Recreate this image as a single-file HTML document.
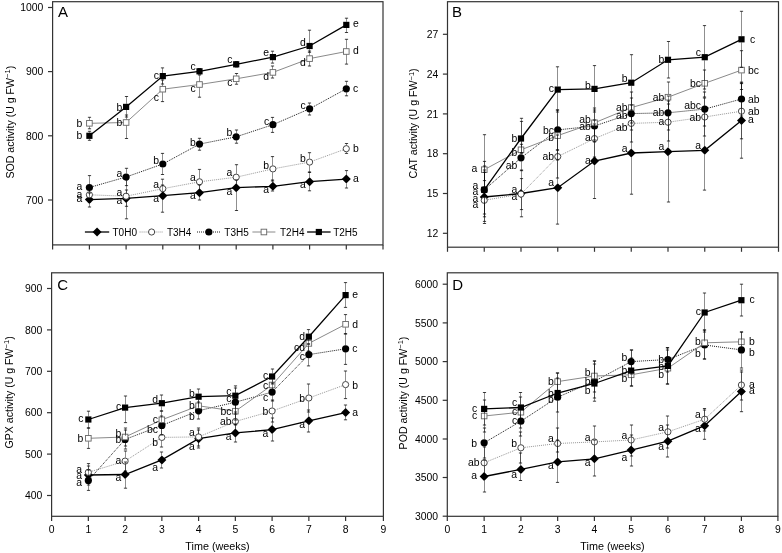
<!DOCTYPE html><html><head><meta charset="utf-8"><style>html,body{margin:0;padding:0;background:#fff;}svg{display:block;filter:grayscale(1);}text{font-family:"Liberation Sans",sans-serif;}</style></head><body>
<svg width="782" height="553" viewBox="0 0 782 553">
<rect width="782" height="553" fill="#fff"/>
<rect x="52.6" y="1.7" width="330.4" height="243.2" fill="none" stroke="#333" stroke-width="1.2"/>
<line x1="52.6" y1="244.9" x2="52.6" y2="249.5" stroke="#333" stroke-width="1.2"/>
<line x1="89.4" y1="244.9" x2="89.4" y2="249.5" stroke="#333" stroke-width="1.2"/>
<line x1="126.1" y1="244.9" x2="126.1" y2="249.5" stroke="#333" stroke-width="1.2"/>
<line x1="162.8" y1="244.9" x2="162.8" y2="249.5" stroke="#333" stroke-width="1.2"/>
<line x1="199.5" y1="244.9" x2="199.5" y2="249.5" stroke="#333" stroke-width="1.2"/>
<line x1="236.2" y1="244.9" x2="236.2" y2="249.5" stroke="#333" stroke-width="1.2"/>
<line x1="272.9" y1="244.9" x2="272.9" y2="249.5" stroke="#333" stroke-width="1.2"/>
<line x1="309.6" y1="244.9" x2="309.6" y2="249.5" stroke="#333" stroke-width="1.2"/>
<line x1="346.3" y1="244.9" x2="346.3" y2="249.5" stroke="#333" stroke-width="1.2"/>
<line x1="383" y1="244.9" x2="383" y2="249.5" stroke="#333" stroke-width="1.2"/>
<line x1="48" y1="7.5" x2="52.6" y2="7.5" stroke="#333" stroke-width="1.2"/>
<text x="43.3" y="11.2" font-size="10.4" text-anchor="end" fill="#000">1000</text>
<line x1="48" y1="71.6" x2="52.6" y2="71.6" stroke="#333" stroke-width="1.2"/>
<text x="43.3" y="75.3" font-size="10.4" text-anchor="end" fill="#000">900</text>
<line x1="48" y1="135.8" x2="52.6" y2="135.8" stroke="#333" stroke-width="1.2"/>
<text x="43.3" y="139.5" font-size="10.4" text-anchor="end" fill="#000">800</text>
<line x1="48" y1="200" x2="52.6" y2="200" stroke="#333" stroke-width="1.2"/>
<text x="43.3" y="203.7" font-size="10.4" text-anchor="end" fill="#000">700</text>
<text x="57.9" y="16.9" font-size="15" fill="#000">A</text>
<text transform="translate(13.5,122.2) rotate(-90)" font-size="10.6" text-anchor="middle" fill="#000">SOD activity (U g FW<tspan font-size="7.5" dy="-3.6">−1</tspan><tspan dy="3.6">)</tspan></text>
<path d="M89.4 199.6L126.1 198.4L162.8 195.7L199.5 192.7L236.2 187.7L272.9 186.3L309.6 181.7L346.3 179.1" stroke="#000" stroke-width="1.3" fill="none"/>
<path d="M89.4 195.1L93.9 199.6L89.4 204.1L84.9 199.6Z" fill="#000"/>
<path d="M126.1 193.9L130.6 198.4L126.1 202.9L121.6 198.4Z" fill="#000"/>
<path d="M162.8 191.2L167.3 195.7L162.8 200.2L158.3 195.7Z" fill="#000"/>
<path d="M199.5 188.2L204 192.7L199.5 197.2L195 192.7Z" fill="#000"/>
<path d="M236.2 183.2L240.7 187.7L236.2 192.2L231.7 187.7Z" fill="#000"/>
<path d="M272.9 181.8L277.4 186.3L272.9 190.8L268.4 186.3Z" fill="#000"/>
<path d="M309.6 177.2L314.1 181.7L309.6 186.2L305.1 181.7Z" fill="#000"/>
<path d="M346.3 174.6L350.8 179.1L346.3 183.6L341.8 179.1Z" fill="#000"/>
<path d="M89.4 194.8L126.1 196.2L162.8 188.7L199.5 181.8L236.2 177.2L272.9 168.9L309.6 162.1L346.3 148.7" stroke="#8a8a8a" stroke-width="0.9" fill="none" stroke-dasharray="1,1"/>
<circle cx="89.4" cy="194.8" r="3.1" fill="#fff" stroke="#333" stroke-width="0.9"/>
<circle cx="126.1" cy="196.2" r="3.1" fill="#fff" stroke="#333" stroke-width="0.9"/>
<circle cx="162.8" cy="188.7" r="3.1" fill="#fff" stroke="#333" stroke-width="0.9"/>
<circle cx="199.5" cy="181.8" r="3.1" fill="#fff" stroke="#333" stroke-width="0.9"/>
<circle cx="236.2" cy="177.2" r="3.1" fill="#fff" stroke="#333" stroke-width="0.9"/>
<circle cx="272.9" cy="168.9" r="3.1" fill="#fff" stroke="#333" stroke-width="0.9"/>
<circle cx="309.6" cy="162.1" r="3.1" fill="#fff" stroke="#333" stroke-width="0.9"/>
<circle cx="346.3" cy="148.7" r="3.1" fill="#fff" stroke="#333" stroke-width="0.9"/>
<path d="M89.4 187.5L126.1 177L162.8 164L199.5 144.1L236.2 136.8L272.9 124.7L309.6 108.8L346.3 88.8" stroke="#000" stroke-width="0.9" fill="none" stroke-dasharray="1,1"/>
<circle cx="89.4" cy="187.5" r="3.6" fill="#000"/>
<circle cx="126.1" cy="177" r="3.6" fill="#000"/>
<circle cx="162.8" cy="164" r="3.6" fill="#000"/>
<circle cx="199.5" cy="144.1" r="3.6" fill="#000"/>
<circle cx="236.2" cy="136.8" r="3.6" fill="#000"/>
<circle cx="272.9" cy="124.7" r="3.6" fill="#000"/>
<circle cx="309.6" cy="108.8" r="3.6" fill="#000"/>
<circle cx="346.3" cy="88.8" r="3.6" fill="#000"/>
<path d="M89.4 123.3L126.1 122.5L162.8 89.2L199.5 84.5L236.2 78.8L272.9 72.4L309.6 58.6L346.3 51.5" stroke="#8a8a8a" stroke-width="1.0" fill="none"/>
<rect x="86.6" y="120.5" width="5.6" height="5.6" fill="#fff" stroke="#666" stroke-width="0.9"/>
<rect x="123.3" y="119.7" width="5.6" height="5.6" fill="#fff" stroke="#666" stroke-width="0.9"/>
<rect x="160" y="86.4" width="5.6" height="5.6" fill="#fff" stroke="#666" stroke-width="0.9"/>
<rect x="196.7" y="81.7" width="5.6" height="5.6" fill="#fff" stroke="#666" stroke-width="0.9"/>
<rect x="233.4" y="76" width="5.6" height="5.6" fill="#fff" stroke="#666" stroke-width="0.9"/>
<rect x="270.1" y="69.6" width="5.6" height="5.6" fill="#fff" stroke="#666" stroke-width="0.9"/>
<rect x="306.8" y="55.8" width="5.6" height="5.6" fill="#fff" stroke="#666" stroke-width="0.9"/>
<rect x="343.5" y="48.7" width="5.6" height="5.6" fill="#fff" stroke="#666" stroke-width="0.9"/>
<path d="M89.4 135.8L126.1 106.9L162.8 76.1L199.5 71.3L236.2 64.3L272.9 57.1L309.6 46L346.3 24.9" stroke="#000" stroke-width="1.3" fill="none"/>
<rect x="86.3" y="132.7" width="6.2" height="6.2" fill="#000"/>
<rect x="123" y="103.8" width="6.2" height="6.2" fill="#000"/>
<rect x="159.7" y="73" width="6.2" height="6.2" fill="#000"/>
<rect x="196.4" y="68.2" width="6.2" height="6.2" fill="#000"/>
<rect x="233.1" y="61.2" width="6.2" height="6.2" fill="#000"/>
<rect x="269.8" y="54" width="6.2" height="6.2" fill="#000"/>
<rect x="306.5" y="42.9" width="6.2" height="6.2" fill="#000"/>
<rect x="343.2" y="21.8" width="6.2" height="6.2" fill="#000"/>
<path d="M89.5 193V195.3" stroke="#000" stroke-opacity="0.44" stroke-width="1" fill="none"/>
<path d="M89.5 203.9V207" stroke="#000" stroke-opacity="0.44" stroke-width="1" fill="none"/>
<path d="M126.5 190V194.1" stroke="#000" stroke-opacity="0.44" stroke-width="1" fill="none"/>
<path d="M126.5 202.7V206.3" stroke="#000" stroke-opacity="0.44" stroke-width="1" fill="none"/>
<path d="M162.5 185V191.4" stroke="#000" stroke-opacity="0.44" stroke-width="1" fill="none"/>
<path d="M162.5 200V212.2" stroke="#000" stroke-opacity="0.44" stroke-width="1" fill="none"/>
<path d="M199.5 185V188.4" stroke="#000" stroke-opacity="0.44" stroke-width="1" fill="none"/>
<path d="M199.5 197V200" stroke="#000" stroke-opacity="0.44" stroke-width="1" fill="none"/>
<path d="M236.5 180V183.4" stroke="#000" stroke-opacity="0.44" stroke-width="1" fill="none"/>
<path d="M236.5 192V210.5" stroke="#000" stroke-opacity="0.44" stroke-width="1" fill="none"/>
<path d="M272.5 180V182" stroke="#000" stroke-opacity="0.44" stroke-width="1" fill="none"/>
<path d="M272.5 190.6V191" stroke="#000" stroke-opacity="0.44" stroke-width="1" fill="none"/>
<path d="M309.5 172V177.4" stroke="#000" stroke-opacity="0.44" stroke-width="1" fill="none"/>
<path d="M309.5 186V190.8" stroke="#000" stroke-opacity="0.44" stroke-width="1" fill="none"/>
<path d="M346.5 170.6V174.8" stroke="#000" stroke-opacity="0.44" stroke-width="1" fill="none"/>
<path d="M346.5 183.4V188" stroke="#000" stroke-opacity="0.44" stroke-width="1" fill="none"/>
<path d="M89.5 187V191.3" stroke="#000" stroke-opacity="0.44" stroke-width="1" fill="none"/>
<path d="M89.5 198.3V202" stroke="#000" stroke-opacity="0.44" stroke-width="1" fill="none"/>
<path d="M126.5 180V192.7" stroke="#000" stroke-opacity="0.44" stroke-width="1" fill="none"/>
<path d="M126.5 199.7V218.8" stroke="#000" stroke-opacity="0.44" stroke-width="1" fill="none"/>
<path d="M162.5 179.2V185.2" stroke="#000" stroke-opacity="0.44" stroke-width="1" fill="none"/>
<path d="M162.5 192.2V198" stroke="#000" stroke-opacity="0.44" stroke-width="1" fill="none"/>
<path d="M199.5 169.4V178.3" stroke="#000" stroke-opacity="0.44" stroke-width="1" fill="none"/>
<path d="M199.5 185.3V194" stroke="#000" stroke-opacity="0.44" stroke-width="1" fill="none"/>
<path d="M236.5 164.7V173.7" stroke="#000" stroke-opacity="0.44" stroke-width="1" fill="none"/>
<path d="M236.5 180.7V190" stroke="#000" stroke-opacity="0.44" stroke-width="1" fill="none"/>
<path d="M272.5 156.6V165.4" stroke="#000" stroke-opacity="0.44" stroke-width="1" fill="none"/>
<path d="M272.5 172.4V181" stroke="#000" stroke-opacity="0.44" stroke-width="1" fill="none"/>
<path d="M309.5 152.7V158.6" stroke="#000" stroke-opacity="0.44" stroke-width="1" fill="none"/>
<path d="M309.5 165.6V172.4" stroke="#000" stroke-opacity="0.44" stroke-width="1" fill="none"/>
<path d="M346.5 143.5V145.2" stroke="#000" stroke-opacity="0.44" stroke-width="1" fill="none"/>
<path d="M346.5 152.2V153.4" stroke="#000" stroke-opacity="0.44" stroke-width="1" fill="none"/>
<path d="M89.5 175.6V184" stroke="#000" stroke-opacity="0.44" stroke-width="1" fill="none"/>
<path d="M89.5 191V199" stroke="#000" stroke-opacity="0.44" stroke-width="1" fill="none"/>
<path d="M126.5 168.3V173.5" stroke="#000" stroke-opacity="0.44" stroke-width="1" fill="none"/>
<path d="M126.5 180.5V185.6" stroke="#000" stroke-opacity="0.44" stroke-width="1" fill="none"/>
<path d="M162.5 153.4V160.5" stroke="#000" stroke-opacity="0.44" stroke-width="1" fill="none"/>
<path d="M162.5 167.5V174.5" stroke="#000" stroke-opacity="0.44" stroke-width="1" fill="none"/>
<path d="M199.5 138.3V140.6" stroke="#000" stroke-opacity="0.44" stroke-width="1" fill="none"/>
<path d="M199.5 147.6V150.2" stroke="#000" stroke-opacity="0.44" stroke-width="1" fill="none"/>
<path d="M236.5 130V133.3" stroke="#000" stroke-opacity="0.44" stroke-width="1" fill="none"/>
<path d="M236.5 140.3V143.2" stroke="#000" stroke-opacity="0.44" stroke-width="1" fill="none"/>
<path d="M272.5 117.4V121.2" stroke="#000" stroke-opacity="0.44" stroke-width="1" fill="none"/>
<path d="M272.5 128.2V132.4" stroke="#000" stroke-opacity="0.44" stroke-width="1" fill="none"/>
<path d="M309.5 103V105.3" stroke="#000" stroke-opacity="0.44" stroke-width="1" fill="none"/>
<path d="M309.5 112.3V115" stroke="#000" stroke-opacity="0.44" stroke-width="1" fill="none"/>
<path d="M346.5 81.3V85.3" stroke="#000" stroke-opacity="0.44" stroke-width="1" fill="none"/>
<path d="M346.5 92.3V95.8" stroke="#000" stroke-opacity="0.44" stroke-width="1" fill="none"/>
<path d="M89.5 117.3V120.1" stroke="#000" stroke-opacity="0.44" stroke-width="1" fill="none"/>
<path d="M89.5 126.5V128.8" stroke="#000" stroke-opacity="0.44" stroke-width="1" fill="none"/>
<path d="M126.5 115V119.3" stroke="#000" stroke-opacity="0.44" stroke-width="1" fill="none"/>
<path d="M126.5 125.7V138.5" stroke="#000" stroke-opacity="0.44" stroke-width="1" fill="none"/>
<path d="M162.5 80V86" stroke="#000" stroke-opacity="0.44" stroke-width="1" fill="none"/>
<path d="M162.5 92.4V101.6" stroke="#000" stroke-opacity="0.44" stroke-width="1" fill="none"/>
<path d="M199.5 75V81.3" stroke="#000" stroke-opacity="0.44" stroke-width="1" fill="none"/>
<path d="M199.5 87.7V97.2" stroke="#000" stroke-opacity="0.44" stroke-width="1" fill="none"/>
<path d="M236.5 73.5V75.6" stroke="#000" stroke-opacity="0.44" stroke-width="1" fill="none"/>
<path d="M236.5 82V84.2" stroke="#000" stroke-opacity="0.44" stroke-width="1" fill="none"/>
<path d="M272.5 66V69.2" stroke="#000" stroke-opacity="0.44" stroke-width="1" fill="none"/>
<path d="M272.5 75.6V78" stroke="#000" stroke-opacity="0.44" stroke-width="1" fill="none"/>
<path d="M309.5 51V55.4" stroke="#000" stroke-opacity="0.44" stroke-width="1" fill="none"/>
<path d="M309.5 61.8V66" stroke="#000" stroke-opacity="0.44" stroke-width="1" fill="none"/>
<path d="M346.5 39.3V48.3" stroke="#000" stroke-opacity="0.44" stroke-width="1" fill="none"/>
<path d="M346.5 54.7V64.1" stroke="#000" stroke-opacity="0.44" stroke-width="1" fill="none"/>
<path d="M89.5 131.3V132.7" stroke="#000" stroke-opacity="0.44" stroke-width="1" fill="none"/>
<path d="M89.5 138.9V140.3" stroke="#000" stroke-opacity="0.44" stroke-width="1" fill="none"/>
<path d="M126.5 96.5V103.8" stroke="#000" stroke-opacity="0.44" stroke-width="1" fill="none"/>
<path d="M126.5 110V117" stroke="#000" stroke-opacity="0.44" stroke-width="1" fill="none"/>
<path d="M162.5 67.9V73" stroke="#000" stroke-opacity="0.44" stroke-width="1" fill="none"/>
<path d="M162.5 79.2V84" stroke="#000" stroke-opacity="0.44" stroke-width="1" fill="none"/>
<path d="M272.5 51.2V54" stroke="#000" stroke-opacity="0.44" stroke-width="1" fill="none"/>
<path d="M272.5 60.2V63.1" stroke="#000" stroke-opacity="0.44" stroke-width="1" fill="none"/>
<path d="M309.5 30.2V42.9" stroke="#000" stroke-opacity="0.44" stroke-width="1" fill="none"/>
<path d="M309.5 49.1V52.3" stroke="#000" stroke-opacity="0.44" stroke-width="1" fill="none"/>
<path d="M346.5 18.2V21.8" stroke="#000" stroke-opacity="0.44" stroke-width="1" fill="none"/>
<path d="M346.5 28V32.5" stroke="#000" stroke-opacity="0.44" stroke-width="1" fill="none"/>
<path d="M87.9 193H91.1M87.9 207H91.1" stroke="#000" stroke-opacity="0.75" stroke-width="1" fill="none"/>
<path d="M124.9 190H128.1M124.9 206.3H128.1" stroke="#000" stroke-opacity="0.75" stroke-width="1" fill="none"/>
<path d="M160.9 185H164.1M160.9 212.2H164.1" stroke="#000" stroke-opacity="0.75" stroke-width="1" fill="none"/>
<path d="M197.9 185H201.1M197.9 200H201.1" stroke="#000" stroke-opacity="0.75" stroke-width="1" fill="none"/>
<path d="M234.9 180H238.1M234.9 210.5H238.1" stroke="#000" stroke-opacity="0.75" stroke-width="1" fill="none"/>
<path d="M270.9 180H274.1M270.9 191H274.1" stroke="#000" stroke-opacity="0.75" stroke-width="1" fill="none"/>
<path d="M307.9 172H311.1M307.9 190.8H311.1" stroke="#000" stroke-opacity="0.75" stroke-width="1" fill="none"/>
<path d="M344.9 170.6H348.1M344.9 188H348.1" stroke="#000" stroke-opacity="0.75" stroke-width="1" fill="none"/>
<path d="M87.9 187H91.1M87.9 202H91.1" stroke="#000" stroke-opacity="0.75" stroke-width="1" fill="none"/>
<path d="M124.9 180H128.1M124.9 218.8H128.1" stroke="#000" stroke-opacity="0.75" stroke-width="1" fill="none"/>
<path d="M160.9 179.2H164.1M160.9 198H164.1" stroke="#000" stroke-opacity="0.75" stroke-width="1" fill="none"/>
<path d="M197.9 169.4H201.1M197.9 194H201.1" stroke="#000" stroke-opacity="0.75" stroke-width="1" fill="none"/>
<path d="M234.9 164.7H238.1M234.9 190H238.1" stroke="#000" stroke-opacity="0.75" stroke-width="1" fill="none"/>
<path d="M270.9 156.6H274.1M270.9 181H274.1" stroke="#000" stroke-opacity="0.75" stroke-width="1" fill="none"/>
<path d="M307.9 152.7H311.1M307.9 172.4H311.1" stroke="#000" stroke-opacity="0.75" stroke-width="1" fill="none"/>
<path d="M344.9 143.5H348.1M344.9 153.4H348.1" stroke="#000" stroke-opacity="0.75" stroke-width="1" fill="none"/>
<path d="M87.9 175.6H91.1M87.9 199H91.1" stroke="#000" stroke-opacity="0.75" stroke-width="1" fill="none"/>
<path d="M124.9 168.3H128.1M124.9 185.6H128.1" stroke="#000" stroke-opacity="0.75" stroke-width="1" fill="none"/>
<path d="M160.9 153.4H164.1M160.9 174.5H164.1" stroke="#000" stroke-opacity="0.75" stroke-width="1" fill="none"/>
<path d="M197.9 138.3H201.1M197.9 150.2H201.1" stroke="#000" stroke-opacity="0.75" stroke-width="1" fill="none"/>
<path d="M234.9 130H238.1M234.9 143.2H238.1" stroke="#000" stroke-opacity="0.75" stroke-width="1" fill="none"/>
<path d="M270.9 117.4H274.1M270.9 132.4H274.1" stroke="#000" stroke-opacity="0.75" stroke-width="1" fill="none"/>
<path d="M307.9 103H311.1M307.9 115H311.1" stroke="#000" stroke-opacity="0.75" stroke-width="1" fill="none"/>
<path d="M344.9 81.3H348.1M344.9 95.8H348.1" stroke="#000" stroke-opacity="0.75" stroke-width="1" fill="none"/>
<path d="M87.9 117.3H91.1M87.9 128.8H91.1" stroke="#000" stroke-opacity="0.75" stroke-width="1" fill="none"/>
<path d="M124.9 115H128.1M124.9 138.5H128.1" stroke="#000" stroke-opacity="0.75" stroke-width="1" fill="none"/>
<path d="M160.9 80H164.1M160.9 101.6H164.1" stroke="#000" stroke-opacity="0.75" stroke-width="1" fill="none"/>
<path d="M197.9 75H201.1M197.9 97.2H201.1" stroke="#000" stroke-opacity="0.75" stroke-width="1" fill="none"/>
<path d="M234.9 73.5H238.1M234.9 84.2H238.1" stroke="#000" stroke-opacity="0.75" stroke-width="1" fill="none"/>
<path d="M270.9 66H274.1M270.9 78H274.1" stroke="#000" stroke-opacity="0.75" stroke-width="1" fill="none"/>
<path d="M307.9 51H311.1M307.9 66H311.1" stroke="#000" stroke-opacity="0.75" stroke-width="1" fill="none"/>
<path d="M344.9 39.3H348.1M344.9 64.1H348.1" stroke="#000" stroke-opacity="0.75" stroke-width="1" fill="none"/>
<path d="M87.9 131.3H91.1M87.9 140.3H91.1" stroke="#000" stroke-opacity="0.75" stroke-width="1" fill="none"/>
<path d="M124.9 96.5H128.1M124.9 117H128.1" stroke="#000" stroke-opacity="0.75" stroke-width="1" fill="none"/>
<path d="M160.9 67.9H164.1M160.9 84H164.1" stroke="#000" stroke-opacity="0.75" stroke-width="1" fill="none"/>
<path d="M197.9 68.5H201.1M197.9 74H201.1" stroke="#000" stroke-opacity="0.75" stroke-width="1" fill="none"/>
<path d="M234.9 61.5H238.1M234.9 67H238.1" stroke="#000" stroke-opacity="0.75" stroke-width="1" fill="none"/>
<path d="M270.9 51.2H274.1M270.9 63.1H274.1" stroke="#000" stroke-opacity="0.75" stroke-width="1" fill="none"/>
<path d="M307.9 30.2H311.1M307.9 52.3H311.1" stroke="#000" stroke-opacity="0.75" stroke-width="1" fill="none"/>
<path d="M344.9 18.2H348.1M344.9 32.5H348.1" stroke="#000" stroke-opacity="0.75" stroke-width="1" fill="none"/>
<text x="82.4" y="202.3" font-size="10.4" text-anchor="end" fill="#000">a</text>
<text x="122.3" y="203.9" font-size="10.4" text-anchor="end" fill="#000">a</text>
<text x="159" y="201.7" font-size="10.4" text-anchor="end" fill="#000">a</text>
<text x="195.7" y="199.2" font-size="10.4" text-anchor="end" fill="#000">a</text>
<text x="232.4" y="195.4" font-size="10.4" text-anchor="end" fill="#000">a</text>
<text x="269.1" y="193" font-size="10.4" text-anchor="end" fill="#000">a</text>
<text x="305.8" y="187.8" font-size="10.4" text-anchor="end" fill="#000">a</text>
<text x="352.9" y="181.8" font-size="10.4" fill="#000">a</text>
<text x="82.4" y="197.5" font-size="10.4" text-anchor="end" fill="#000">a</text>
<text x="122.3" y="195.7" font-size="10.4" text-anchor="end" fill="#000">a</text>
<text x="159" y="188.4" font-size="10.4" text-anchor="end" fill="#000">a</text>
<text x="195.7" y="180.7" font-size="10.4" text-anchor="end" fill="#000">a</text>
<text x="232.4" y="176.2" font-size="10.4" text-anchor="end" fill="#000">a</text>
<text x="269.1" y="169.2" font-size="10.4" text-anchor="end" fill="#000">b</text>
<text x="305.8" y="162.2" font-size="10.4" text-anchor="end" fill="#000">b</text>
<text x="352.9" y="152.3" font-size="10.4" fill="#000">b</text>
<text x="82.4" y="190.2" font-size="10.4" text-anchor="end" fill="#000">a</text>
<text x="122.3" y="176.7" font-size="10.4" text-anchor="end" fill="#000">a</text>
<text x="159" y="164.3" font-size="10.4" text-anchor="end" fill="#000">b</text>
<text x="195.7" y="145.7" font-size="10.4" text-anchor="end" fill="#000">b</text>
<text x="232.4" y="136.4" font-size="10.4" text-anchor="end" fill="#000">b</text>
<text x="269.1" y="124.8" font-size="10.4" text-anchor="end" fill="#000">c</text>
<text x="305.8" y="109.1" font-size="10.4" text-anchor="end" fill="#000">c</text>
<text x="352.9" y="91.5" font-size="10.4" fill="#000">c</text>
<text x="82.4" y="126.9" font-size="10.4" text-anchor="end" fill="#000">b</text>
<text x="122.3" y="126.1" font-size="10.4" text-anchor="end" fill="#000">b</text>
<text x="159" y="100.9" font-size="10.4" text-anchor="end" fill="#000">c</text>
<text x="195.7" y="91.9" font-size="10.4" text-anchor="end" fill="#000">c</text>
<text x="232.4" y="86.2" font-size="10.4" text-anchor="end" fill="#000">c</text>
<text x="269.1" y="79.5" font-size="10.4" text-anchor="end" fill="#000">d</text>
<text x="305.8" y="66" font-size="10.4" text-anchor="end" fill="#000">d</text>
<text x="352.9" y="54.1" font-size="10.4" fill="#000">d</text>
<text x="82.4" y="139.4" font-size="10.4" text-anchor="end" fill="#000">b</text>
<text x="122.3" y="110.5" font-size="10.4" text-anchor="end" fill="#000">b</text>
<text x="159" y="78.8" font-size="10.4" text-anchor="end" fill="#000">c</text>
<text x="195.7" y="69.5" font-size="10.4" text-anchor="end" fill="#000">c</text>
<text x="232.4" y="62.5" font-size="10.4" text-anchor="end" fill="#000">c</text>
<text x="269.1" y="55.5" font-size="10.4" text-anchor="end" fill="#000">e</text>
<text x="305.8" y="45.6" font-size="10.4" text-anchor="end" fill="#000">d</text>
<text x="352.9" y="26.6" font-size="10.4" fill="#000">e</text>
<rect x="447.5" y="1.7" width="331" height="245.5" fill="none" stroke="#333" stroke-width="1.2"/>
<line x1="447.5" y1="247.2" x2="447.5" y2="251.8" stroke="#333" stroke-width="1.2"/>
<line x1="484.25" y1="247.2" x2="484.25" y2="251.8" stroke="#333" stroke-width="1.2"/>
<line x1="521" y1="247.2" x2="521" y2="251.8" stroke="#333" stroke-width="1.2"/>
<line x1="557.75" y1="247.2" x2="557.75" y2="251.8" stroke="#333" stroke-width="1.2"/>
<line x1="594.5" y1="247.2" x2="594.5" y2="251.8" stroke="#333" stroke-width="1.2"/>
<line x1="631.25" y1="247.2" x2="631.25" y2="251.8" stroke="#333" stroke-width="1.2"/>
<line x1="668" y1="247.2" x2="668" y2="251.8" stroke="#333" stroke-width="1.2"/>
<line x1="704.75" y1="247.2" x2="704.75" y2="251.8" stroke="#333" stroke-width="1.2"/>
<line x1="741.5" y1="247.2" x2="741.5" y2="251.8" stroke="#333" stroke-width="1.2"/>
<line x1="778.5" y1="247.2" x2="778.5" y2="251.8" stroke="#333" stroke-width="1.2"/>
<line x1="442.9" y1="34.3" x2="447.5" y2="34.3" stroke="#333" stroke-width="1.2"/>
<text x="438.2" y="38" font-size="10.4" text-anchor="end" fill="#000">27</text>
<line x1="442.9" y1="74.1" x2="447.5" y2="74.1" stroke="#333" stroke-width="1.2"/>
<text x="438.2" y="77.8" font-size="10.4" text-anchor="end" fill="#000">24</text>
<line x1="442.9" y1="113.9" x2="447.5" y2="113.9" stroke="#333" stroke-width="1.2"/>
<text x="438.2" y="117.6" font-size="10.4" text-anchor="end" fill="#000">21</text>
<line x1="442.9" y1="153.7" x2="447.5" y2="153.7" stroke="#333" stroke-width="1.2"/>
<text x="438.2" y="157.4" font-size="10.4" text-anchor="end" fill="#000">18</text>
<line x1="442.9" y1="193.5" x2="447.5" y2="193.5" stroke="#333" stroke-width="1.2"/>
<text x="438.2" y="197.2" font-size="10.4" text-anchor="end" fill="#000">15</text>
<line x1="442.9" y1="233.3" x2="447.5" y2="233.3" stroke="#333" stroke-width="1.2"/>
<text x="438.2" y="237" font-size="10.4" text-anchor="end" fill="#000">12</text>
<text x="452" y="16.9" font-size="15" fill="#000">B</text>
<text transform="translate(417.1,123.4) rotate(-90)" font-size="10.6" text-anchor="middle" fill="#000">CAT activity (U g FW<tspan font-size="7.5" dy="-3.6">−1</tspan><tspan dy="3.6">)</tspan></text>
<path d="M484.25 197L521 193.5L557.75 187.7L594.5 161L631.25 153L668 151.7L704.75 150.3L741.5 120.6" stroke="#000" stroke-width="1.3" fill="none"/>
<path d="M484.25 192.5L488.75 197L484.25 201.5L479.75 197Z" fill="#000"/>
<path d="M521 189L525.5 193.5L521 198L516.5 193.5Z" fill="#000"/>
<path d="M557.75 183.2L562.25 187.7L557.75 192.2L553.25 187.7Z" fill="#000"/>
<path d="M594.5 156.5L599 161L594.5 165.5L590 161Z" fill="#000"/>
<path d="M631.25 148.5L635.75 153L631.25 157.5L626.75 153Z" fill="#000"/>
<path d="M668 147.2L672.5 151.7L668 156.2L663.5 151.7Z" fill="#000"/>
<path d="M704.75 145.8L709.25 150.3L704.75 154.8L700.25 150.3Z" fill="#000"/>
<path d="M741.5 116.1L746 120.6L741.5 125.1L737 120.6Z" fill="#000"/>
<path d="M484.25 200.3L521 194.1L557.75 156.6L594.5 138.6L631.25 123.4L668 122.2L704.75 117L741.5 111.2" stroke="#8a8a8a" stroke-width="0.9" fill="none" stroke-dasharray="1,1"/>
<circle cx="484.25" cy="200.3" r="3.1" fill="#fff" stroke="#333" stroke-width="0.9"/>
<circle cx="521" cy="194.1" r="3.1" fill="#fff" stroke="#333" stroke-width="0.9"/>
<circle cx="557.75" cy="156.6" r="3.1" fill="#fff" stroke="#333" stroke-width="0.9"/>
<circle cx="594.5" cy="138.6" r="3.1" fill="#fff" stroke="#333" stroke-width="0.9"/>
<circle cx="631.25" cy="123.4" r="3.1" fill="#fff" stroke="#333" stroke-width="0.9"/>
<circle cx="668" cy="122.2" r="3.1" fill="#fff" stroke="#333" stroke-width="0.9"/>
<circle cx="704.75" cy="117" r="3.1" fill="#fff" stroke="#333" stroke-width="0.9"/>
<circle cx="741.5" cy="111.2" r="3.1" fill="#fff" stroke="#333" stroke-width="0.9"/>
<path d="M484.25 189.9L521 157.8L557.75 129.9L594.5 126L631.25 113.6L668 112.8L704.75 109.1L741.5 99" stroke="#000" stroke-width="0.9" fill="none" stroke-dasharray="1,1"/>
<circle cx="484.25" cy="189.9" r="3.6" fill="#000"/>
<circle cx="521" cy="157.8" r="3.6" fill="#000"/>
<circle cx="557.75" cy="129.9" r="3.6" fill="#000"/>
<circle cx="594.5" cy="126" r="3.6" fill="#000"/>
<circle cx="631.25" cy="113.6" r="3.6" fill="#000"/>
<circle cx="668" cy="112.8" r="3.6" fill="#000"/>
<circle cx="704.75" cy="109.1" r="3.6" fill="#000"/>
<circle cx="741.5" cy="99" r="3.6" fill="#000"/>
<path d="M484.25 169.7L521 149.8L557.75 135.6L594.5 122.8L631.25 107.6L668 97.2L704.75 83.3L741.5 70.1" stroke="#8a8a8a" stroke-width="1.0" fill="none"/>
<rect x="481.45" y="166.9" width="5.6" height="5.6" fill="#fff" stroke="#666" stroke-width="0.9"/>
<rect x="518.2" y="147" width="5.6" height="5.6" fill="#fff" stroke="#666" stroke-width="0.9"/>
<rect x="554.95" y="132.8" width="5.6" height="5.6" fill="#fff" stroke="#666" stroke-width="0.9"/>
<rect x="591.7" y="120" width="5.6" height="5.6" fill="#fff" stroke="#666" stroke-width="0.9"/>
<rect x="628.45" y="104.8" width="5.6" height="5.6" fill="#fff" stroke="#666" stroke-width="0.9"/>
<rect x="665.2" y="94.4" width="5.6" height="5.6" fill="#fff" stroke="#666" stroke-width="0.9"/>
<rect x="701.95" y="80.5" width="5.6" height="5.6" fill="#fff" stroke="#666" stroke-width="0.9"/>
<rect x="738.7" y="67.3" width="5.6" height="5.6" fill="#fff" stroke="#666" stroke-width="0.9"/>
<path d="M484.25 189.8L521 138.5L557.75 89.6L594.5 88.9L631.25 82.7L668 59.8L704.75 57.2L741.5 39.3" stroke="#000" stroke-width="1.3" fill="none"/>
<rect x="481.15" y="186.7" width="6.2" height="6.2" fill="#000"/>
<rect x="517.9" y="135.4" width="6.2" height="6.2" fill="#000"/>
<rect x="554.65" y="86.5" width="6.2" height="6.2" fill="#000"/>
<rect x="591.4" y="85.8" width="6.2" height="6.2" fill="#000"/>
<rect x="628.15" y="79.6" width="6.2" height="6.2" fill="#000"/>
<rect x="664.9" y="56.7" width="6.2" height="6.2" fill="#000"/>
<rect x="701.65" y="54.1" width="6.2" height="6.2" fill="#000"/>
<rect x="738.4" y="36.2" width="6.2" height="6.2" fill="#000"/>
<path d="M484.5 170V192.7" stroke="#000" stroke-opacity="0.44" stroke-width="1" fill="none"/>
<path d="M484.5 201.3V223.5" stroke="#000" stroke-opacity="0.44" stroke-width="1" fill="none"/>
<path d="M521.5 170V189.2" stroke="#000" stroke-opacity="0.44" stroke-width="1" fill="none"/>
<path d="M521.5 197.8V216.8" stroke="#000" stroke-opacity="0.44" stroke-width="1" fill="none"/>
<path d="M557.5 150V183.4" stroke="#000" stroke-opacity="0.44" stroke-width="1" fill="none"/>
<path d="M557.5 192V224.1" stroke="#000" stroke-opacity="0.44" stroke-width="1" fill="none"/>
<path d="M594.5 124V156.7" stroke="#000" stroke-opacity="0.44" stroke-width="1" fill="none"/>
<path d="M594.5 165.3V198.5" stroke="#000" stroke-opacity="0.44" stroke-width="1" fill="none"/>
<path d="M631.5 112V148.7" stroke="#000" stroke-opacity="0.44" stroke-width="1" fill="none"/>
<path d="M631.5 157.3V194.2" stroke="#000" stroke-opacity="0.44" stroke-width="1" fill="none"/>
<path d="M668.5 101V147.4" stroke="#000" stroke-opacity="0.44" stroke-width="1" fill="none"/>
<path d="M668.5 156V202" stroke="#000" stroke-opacity="0.44" stroke-width="1" fill="none"/>
<path d="M704.5 110V146" stroke="#000" stroke-opacity="0.44" stroke-width="1" fill="none"/>
<path d="M704.5 154.6V190.1" stroke="#000" stroke-opacity="0.44" stroke-width="1" fill="none"/>
<path d="M741.5 82.9V116.3" stroke="#000" stroke-opacity="0.44" stroke-width="1" fill="none"/>
<path d="M741.5 124.9V158.2" stroke="#000" stroke-opacity="0.44" stroke-width="1" fill="none"/>
<path d="M484.5 172.2V196.8" stroke="#000" stroke-opacity="0.44" stroke-width="1" fill="none"/>
<path d="M484.5 203.8V221.4" stroke="#000" stroke-opacity="0.44" stroke-width="1" fill="none"/>
<path d="M521.5 178.6V190.6" stroke="#000" stroke-opacity="0.44" stroke-width="1" fill="none"/>
<path d="M521.5 197.6V209.6" stroke="#000" stroke-opacity="0.44" stroke-width="1" fill="none"/>
<path d="M557.5 135V153.1" stroke="#000" stroke-opacity="0.44" stroke-width="1" fill="none"/>
<path d="M557.5 160.1V178" stroke="#000" stroke-opacity="0.44" stroke-width="1" fill="none"/>
<path d="M594.5 120V135.1" stroke="#000" stroke-opacity="0.44" stroke-width="1" fill="none"/>
<path d="M594.5 142.1V157" stroke="#000" stroke-opacity="0.44" stroke-width="1" fill="none"/>
<path d="M631.5 105V119.9" stroke="#000" stroke-opacity="0.44" stroke-width="1" fill="none"/>
<path d="M631.5 126.9V142" stroke="#000" stroke-opacity="0.44" stroke-width="1" fill="none"/>
<path d="M668.5 104V118.7" stroke="#000" stroke-opacity="0.44" stroke-width="1" fill="none"/>
<path d="M668.5 125.7V141" stroke="#000" stroke-opacity="0.44" stroke-width="1" fill="none"/>
<path d="M704.5 98V113.5" stroke="#000" stroke-opacity="0.44" stroke-width="1" fill="none"/>
<path d="M704.5 120.5V136" stroke="#000" stroke-opacity="0.44" stroke-width="1" fill="none"/>
<path d="M741.5 83.6V107.7" stroke="#000" stroke-opacity="0.44" stroke-width="1" fill="none"/>
<path d="M741.5 114.7V138.8" stroke="#000" stroke-opacity="0.44" stroke-width="1" fill="none"/>
<path d="M484.5 166V186.4" stroke="#000" stroke-opacity="0.44" stroke-width="1" fill="none"/>
<path d="M484.5 193.4V214" stroke="#000" stroke-opacity="0.44" stroke-width="1" fill="none"/>
<path d="M521.5 144.3V154.3" stroke="#000" stroke-opacity="0.44" stroke-width="1" fill="none"/>
<path d="M521.5 161.3V170.7" stroke="#000" stroke-opacity="0.44" stroke-width="1" fill="none"/>
<path d="M557.5 110V126.4" stroke="#000" stroke-opacity="0.44" stroke-width="1" fill="none"/>
<path d="M557.5 133.4V150" stroke="#000" stroke-opacity="0.44" stroke-width="1" fill="none"/>
<path d="M594.5 110V122.5" stroke="#000" stroke-opacity="0.44" stroke-width="1" fill="none"/>
<path d="M594.5 129.5V142" stroke="#000" stroke-opacity="0.44" stroke-width="1" fill="none"/>
<path d="M631.5 98V110.1" stroke="#000" stroke-opacity="0.44" stroke-width="1" fill="none"/>
<path d="M631.5 117.1V130" stroke="#000" stroke-opacity="0.44" stroke-width="1" fill="none"/>
<path d="M668.5 96V109.3" stroke="#000" stroke-opacity="0.44" stroke-width="1" fill="none"/>
<path d="M668.5 116.3V130" stroke="#000" stroke-opacity="0.44" stroke-width="1" fill="none"/>
<path d="M704.5 92V105.6" stroke="#000" stroke-opacity="0.44" stroke-width="1" fill="none"/>
<path d="M704.5 112.6V126" stroke="#000" stroke-opacity="0.44" stroke-width="1" fill="none"/>
<path d="M741.5 82.1V95.5" stroke="#000" stroke-opacity="0.44" stroke-width="1" fill="none"/>
<path d="M741.5 102.5V116" stroke="#000" stroke-opacity="0.44" stroke-width="1" fill="none"/>
<path d="M484.5 161.4V166.5" stroke="#000" stroke-opacity="0.44" stroke-width="1" fill="none"/>
<path d="M484.5 172.9V180.6" stroke="#000" stroke-opacity="0.44" stroke-width="1" fill="none"/>
<path d="M521.5 121.4V146.6" stroke="#000" stroke-opacity="0.44" stroke-width="1" fill="none"/>
<path d="M557.5 110V132.4" stroke="#000" stroke-opacity="0.44" stroke-width="1" fill="none"/>
<path d="M557.5 138.8V160" stroke="#000" stroke-opacity="0.44" stroke-width="1" fill="none"/>
<path d="M594.5 108V119.6" stroke="#000" stroke-opacity="0.44" stroke-width="1" fill="none"/>
<path d="M594.5 126V140" stroke="#000" stroke-opacity="0.44" stroke-width="1" fill="none"/>
<path d="M631.5 92V104.4" stroke="#000" stroke-opacity="0.44" stroke-width="1" fill="none"/>
<path d="M631.5 110.8V123" stroke="#000" stroke-opacity="0.44" stroke-width="1" fill="none"/>
<path d="M668.5 82V94" stroke="#000" stroke-opacity="0.44" stroke-width="1" fill="none"/>
<path d="M668.5 100.4V112" stroke="#000" stroke-opacity="0.44" stroke-width="1" fill="none"/>
<path d="M704.5 70V80.1" stroke="#000" stroke-opacity="0.44" stroke-width="1" fill="none"/>
<path d="M704.5 86.5V97" stroke="#000" stroke-opacity="0.44" stroke-width="1" fill="none"/>
<path d="M741.5 50.7V66.9" stroke="#000" stroke-opacity="0.44" stroke-width="1" fill="none"/>
<path d="M741.5 73.3V89.5" stroke="#000" stroke-opacity="0.44" stroke-width="1" fill="none"/>
<path d="M484.5 134.7V186.7" stroke="#000" stroke-opacity="0.44" stroke-width="1" fill="none"/>
<path d="M484.5 192.9V216.8" stroke="#000" stroke-opacity="0.44" stroke-width="1" fill="none"/>
<path d="M521.5 118.3V135.4" stroke="#000" stroke-opacity="0.44" stroke-width="1" fill="none"/>
<path d="M521.5 141.6V153" stroke="#000" stroke-opacity="0.44" stroke-width="1" fill="none"/>
<path d="M557.5 66.8V86.5" stroke="#000" stroke-opacity="0.44" stroke-width="1" fill="none"/>
<path d="M557.5 92.7V112" stroke="#000" stroke-opacity="0.44" stroke-width="1" fill="none"/>
<path d="M594.5 65.6V85.8" stroke="#000" stroke-opacity="0.44" stroke-width="1" fill="none"/>
<path d="M594.5 92V112" stroke="#000" stroke-opacity="0.44" stroke-width="1" fill="none"/>
<path d="M631.5 54.7V79.6" stroke="#000" stroke-opacity="0.44" stroke-width="1" fill="none"/>
<path d="M631.5 85.8V110" stroke="#000" stroke-opacity="0.44" stroke-width="1" fill="none"/>
<path d="M668.5 41.5V56.7" stroke="#000" stroke-opacity="0.44" stroke-width="1" fill="none"/>
<path d="M668.5 62.9V78" stroke="#000" stroke-opacity="0.44" stroke-width="1" fill="none"/>
<path d="M704.5 25.6V54.1" stroke="#000" stroke-opacity="0.44" stroke-width="1" fill="none"/>
<path d="M704.5 60.3V89" stroke="#000" stroke-opacity="0.44" stroke-width="1" fill="none"/>
<path d="M741.5 11.3V36.2" stroke="#000" stroke-opacity="0.44" stroke-width="1" fill="none"/>
<path d="M741.5 42.4V67.3" stroke="#000" stroke-opacity="0.44" stroke-width="1" fill="none"/>
<path d="M482.9 170H486.1M482.9 223.5H486.1" stroke="#000" stroke-opacity="0.75" stroke-width="1" fill="none"/>
<path d="M519.9 170H523.1M519.9 216.8H523.1" stroke="#000" stroke-opacity="0.75" stroke-width="1" fill="none"/>
<path d="M555.9 150H559.1M555.9 224.1H559.1" stroke="#000" stroke-opacity="0.75" stroke-width="1" fill="none"/>
<path d="M592.9 124H596.1M592.9 198.5H596.1" stroke="#000" stroke-opacity="0.75" stroke-width="1" fill="none"/>
<path d="M629.9 112H633.1M629.9 194.2H633.1" stroke="#000" stroke-opacity="0.75" stroke-width="1" fill="none"/>
<path d="M666.9 101H670.1M666.9 202H670.1" stroke="#000" stroke-opacity="0.75" stroke-width="1" fill="none"/>
<path d="M702.9 110H706.1M702.9 190.1H706.1" stroke="#000" stroke-opacity="0.75" stroke-width="1" fill="none"/>
<path d="M739.9 82.9H743.1M739.9 158.2H743.1" stroke="#000" stroke-opacity="0.75" stroke-width="1" fill="none"/>
<path d="M482.9 172.2H486.1M482.9 221.4H486.1" stroke="#000" stroke-opacity="0.75" stroke-width="1" fill="none"/>
<path d="M519.9 178.6H523.1M519.9 209.6H523.1" stroke="#000" stroke-opacity="0.75" stroke-width="1" fill="none"/>
<path d="M555.9 135H559.1M555.9 178H559.1" stroke="#000" stroke-opacity="0.75" stroke-width="1" fill="none"/>
<path d="M592.9 120H596.1M592.9 157H596.1" stroke="#000" stroke-opacity="0.75" stroke-width="1" fill="none"/>
<path d="M629.9 105H633.1M629.9 142H633.1" stroke="#000" stroke-opacity="0.75" stroke-width="1" fill="none"/>
<path d="M666.9 104H670.1M666.9 141H670.1" stroke="#000" stroke-opacity="0.75" stroke-width="1" fill="none"/>
<path d="M702.9 98H706.1M702.9 136H706.1" stroke="#000" stroke-opacity="0.75" stroke-width="1" fill="none"/>
<path d="M739.9 83.6H743.1M739.9 138.8H743.1" stroke="#000" stroke-opacity="0.75" stroke-width="1" fill="none"/>
<path d="M482.9 166H486.1M482.9 214H486.1" stroke="#000" stroke-opacity="0.75" stroke-width="1" fill="none"/>
<path d="M519.9 144.3H523.1M519.9 170.7H523.1" stroke="#000" stroke-opacity="0.75" stroke-width="1" fill="none"/>
<path d="M555.9 110H559.1M555.9 150H559.1" stroke="#000" stroke-opacity="0.75" stroke-width="1" fill="none"/>
<path d="M592.9 110H596.1M592.9 142H596.1" stroke="#000" stroke-opacity="0.75" stroke-width="1" fill="none"/>
<path d="M629.9 98H633.1M629.9 130H633.1" stroke="#000" stroke-opacity="0.75" stroke-width="1" fill="none"/>
<path d="M666.9 96H670.1M666.9 130H670.1" stroke="#000" stroke-opacity="0.75" stroke-width="1" fill="none"/>
<path d="M702.9 92H706.1M702.9 126H706.1" stroke="#000" stroke-opacity="0.75" stroke-width="1" fill="none"/>
<path d="M739.9 82.1H743.1M739.9 116H743.1" stroke="#000" stroke-opacity="0.75" stroke-width="1" fill="none"/>
<path d="M482.9 161.4H486.1M482.9 180.6H486.1" stroke="#000" stroke-opacity="0.75" stroke-width="1" fill="none"/>
<path d="M519.9 121.4H523.1M519.9 153H523.1" stroke="#000" stroke-opacity="0.75" stroke-width="1" fill="none"/>
<path d="M555.9 110H559.1M555.9 160H559.1" stroke="#000" stroke-opacity="0.75" stroke-width="1" fill="none"/>
<path d="M592.9 108H596.1M592.9 140H596.1" stroke="#000" stroke-opacity="0.75" stroke-width="1" fill="none"/>
<path d="M629.9 92H633.1M629.9 123H633.1" stroke="#000" stroke-opacity="0.75" stroke-width="1" fill="none"/>
<path d="M666.9 82H670.1M666.9 112H670.1" stroke="#000" stroke-opacity="0.75" stroke-width="1" fill="none"/>
<path d="M702.9 70H706.1M702.9 97H706.1" stroke="#000" stroke-opacity="0.75" stroke-width="1" fill="none"/>
<path d="M739.9 50.7H743.1M739.9 89.5H743.1" stroke="#000" stroke-opacity="0.75" stroke-width="1" fill="none"/>
<path d="M482.9 134.7H486.1M482.9 216.8H486.1" stroke="#000" stroke-opacity="0.75" stroke-width="1" fill="none"/>
<path d="M519.9 118.3H523.1M519.9 153H523.1" stroke="#000" stroke-opacity="0.75" stroke-width="1" fill="none"/>
<path d="M555.9 66.8H559.1M555.9 112H559.1" stroke="#000" stroke-opacity="0.75" stroke-width="1" fill="none"/>
<path d="M592.9 65.6H596.1M592.9 112H596.1" stroke="#000" stroke-opacity="0.75" stroke-width="1" fill="none"/>
<path d="M629.9 54.7H633.1M629.9 110H633.1" stroke="#000" stroke-opacity="0.75" stroke-width="1" fill="none"/>
<path d="M666.9 41.5H670.1M666.9 78H670.1" stroke="#000" stroke-opacity="0.75" stroke-width="1" fill="none"/>
<path d="M702.9 25.6H706.1M702.9 89H706.1" stroke="#000" stroke-opacity="0.75" stroke-width="1" fill="none"/>
<path d="M739.9 11.3H743.1M739.9 67.3H743.1" stroke="#000" stroke-opacity="0.75" stroke-width="1" fill="none"/>
<text x="517.2" y="200.2" font-size="10.4" text-anchor="end" fill="#000">a</text>
<text x="553.95" y="186.4" font-size="10.4" text-anchor="end" fill="#000">a</text>
<text x="590.7" y="163.7" font-size="10.4" text-anchor="end" fill="#000">a</text>
<text x="627.45" y="151.7" font-size="10.4" text-anchor="end" fill="#000">a</text>
<text x="664.2" y="150.4" font-size="10.4" text-anchor="end" fill="#000">a</text>
<text x="700.95" y="149" font-size="10.4" text-anchor="end" fill="#000">a</text>
<text x="748.1" y="123.3" font-size="10.4" fill="#000">a</text>
<text x="517.2" y="192.8" font-size="10.4" text-anchor="end" fill="#000">a</text>
<text x="553.95" y="160.2" font-size="10.4" text-anchor="end" fill="#000">ab</text>
<text x="590.7" y="141.3" font-size="10.4" text-anchor="end" fill="#000">a</text>
<text x="627.45" y="131" font-size="10.4" text-anchor="end" fill="#000">ab</text>
<text x="664.2" y="124.9" font-size="10.4" text-anchor="end" fill="#000">a</text>
<text x="700.95" y="120.6" font-size="10.4" text-anchor="end" fill="#000">ab</text>
<text x="748.1" y="114.8" font-size="10.4" fill="#000">ab</text>
<text x="517.2" y="168.9" font-size="10.4" text-anchor="end" fill="#000">ab</text>
<text x="553.95" y="133.5" font-size="10.4" text-anchor="end" fill="#000">bc</text>
<text x="590.7" y="129.6" font-size="10.4" text-anchor="end" fill="#000">ab</text>
<text x="627.45" y="119.2" font-size="10.4" text-anchor="end" fill="#000">ab</text>
<text x="664.2" y="116.4" font-size="10.4" text-anchor="end" fill="#000">ab</text>
<text x="700.95" y="108.7" font-size="10.4" text-anchor="end" fill="#000">abc</text>
<text x="748.1" y="102.6" font-size="10.4" fill="#000">ab</text>
<text x="477.25" y="172.4" font-size="10.4" text-anchor="end" fill="#000">a</text>
<text x="517.2" y="155.8" font-size="10.4" text-anchor="end" fill="#000">b</text>
<text x="553.95" y="140.7" font-size="10.4" text-anchor="end" fill="#000">b</text>
<text x="590.7" y="123.4" font-size="10.4" text-anchor="end" fill="#000">ab</text>
<text x="627.45" y="111.2" font-size="10.4" text-anchor="end" fill="#000">ab</text>
<text x="664.2" y="100.8" font-size="10.4" text-anchor="end" fill="#000">ab</text>
<text x="700.95" y="86.9" font-size="10.4" text-anchor="end" fill="#000">bc</text>
<text x="748.1" y="73.7" font-size="10.4" fill="#000">bc</text>
<text x="517.2" y="142.1" font-size="10.4" text-anchor="end" fill="#000">b</text>
<text x="553.95" y="92.3" font-size="10.4" text-anchor="end" fill="#000">c</text>
<text x="590.7" y="88.5" font-size="10.4" text-anchor="end" fill="#000">b</text>
<text x="627.45" y="82.3" font-size="10.4" text-anchor="end" fill="#000">b</text>
<text x="664.2" y="63.4" font-size="10.4" text-anchor="end" fill="#000">b</text>
<text x="700.95" y="55.9" font-size="10.4" text-anchor="end" fill="#000">c</text>
<text x="750.1" y="42.5" font-size="10.4" fill="#000">c</text>
<text x="478.4" y="188.8" font-size="10.4" text-anchor="end" fill="#000">a</text>
<text x="478.4" y="195.2" font-size="10.4" text-anchor="end" fill="#000">a</text>
<text x="478.4" y="201.6" font-size="10.4" text-anchor="end" fill="#000">a</text>
<text x="478.4" y="207.9" font-size="10.4" text-anchor="end" fill="#000">a</text>
<rect x="51.6" y="272.8" width="331.8" height="243.5" fill="none" stroke="#333" stroke-width="1.2"/>
<line x1="51.6" y1="516.3" x2="51.6" y2="520.9" stroke="#333" stroke-width="1.2"/>
<text x="51.6" y="532.7" font-size="10.4" text-anchor="middle" fill="#000">0</text>
<line x1="88.35" y1="516.3" x2="88.35" y2="520.9" stroke="#333" stroke-width="1.2"/>
<text x="88.35" y="532.7" font-size="10.4" text-anchor="middle" fill="#000">1</text>
<line x1="125.1" y1="516.3" x2="125.1" y2="520.9" stroke="#333" stroke-width="1.2"/>
<text x="125.1" y="532.7" font-size="10.4" text-anchor="middle" fill="#000">2</text>
<line x1="161.85" y1="516.3" x2="161.85" y2="520.9" stroke="#333" stroke-width="1.2"/>
<text x="161.85" y="532.7" font-size="10.4" text-anchor="middle" fill="#000">3</text>
<line x1="198.6" y1="516.3" x2="198.6" y2="520.9" stroke="#333" stroke-width="1.2"/>
<text x="198.6" y="532.7" font-size="10.4" text-anchor="middle" fill="#000">4</text>
<line x1="235.35" y1="516.3" x2="235.35" y2="520.9" stroke="#333" stroke-width="1.2"/>
<text x="235.35" y="532.7" font-size="10.4" text-anchor="middle" fill="#000">5</text>
<line x1="272.1" y1="516.3" x2="272.1" y2="520.9" stroke="#333" stroke-width="1.2"/>
<text x="272.1" y="532.7" font-size="10.4" text-anchor="middle" fill="#000">6</text>
<line x1="308.85" y1="516.3" x2="308.85" y2="520.9" stroke="#333" stroke-width="1.2"/>
<text x="308.85" y="532.7" font-size="10.4" text-anchor="middle" fill="#000">7</text>
<line x1="345.6" y1="516.3" x2="345.6" y2="520.9" stroke="#333" stroke-width="1.2"/>
<text x="345.6" y="532.7" font-size="10.4" text-anchor="middle" fill="#000">8</text>
<line x1="383.4" y1="516.3" x2="383.4" y2="520.9" stroke="#333" stroke-width="1.2"/>
<text x="383.4" y="532.7" font-size="10.4" text-anchor="middle" fill="#000">9</text>
<line x1="47" y1="288.5" x2="51.6" y2="288.5" stroke="#333" stroke-width="1.2"/>
<text x="42.3" y="292.2" font-size="10.4" text-anchor="end" fill="#000">900</text>
<line x1="47" y1="329.9" x2="51.6" y2="329.9" stroke="#333" stroke-width="1.2"/>
<text x="42.3" y="333.6" font-size="10.4" text-anchor="end" fill="#000">800</text>
<line x1="47" y1="371.3" x2="51.6" y2="371.3" stroke="#333" stroke-width="1.2"/>
<text x="42.3" y="375" font-size="10.4" text-anchor="end" fill="#000">700</text>
<line x1="47" y1="412.7" x2="51.6" y2="412.7" stroke="#333" stroke-width="1.2"/>
<text x="42.3" y="416.4" font-size="10.4" text-anchor="end" fill="#000">600</text>
<line x1="47" y1="454.1" x2="51.6" y2="454.1" stroke="#333" stroke-width="1.2"/>
<text x="42.3" y="457.8" font-size="10.4" text-anchor="end" fill="#000">500</text>
<line x1="47" y1="495.5" x2="51.6" y2="495.5" stroke="#333" stroke-width="1.2"/>
<text x="42.3" y="499.2" font-size="10.4" text-anchor="end" fill="#000">400</text>
<text x="57.2" y="290.2" font-size="15" fill="#000">C</text>
<text transform="translate(12.8,392.4) rotate(-90)" font-size="10.6" text-anchor="middle" fill="#000">GPX activity (U g FW<tspan font-size="7.5" dy="-3.6">−1</tspan><tspan dy="3.6">)</tspan></text>
<path d="M88.35 475L125.1 474.5L161.85 459.9L198.6 438.7L235.35 432.9L272.1 429.6L308.85 420.8L345.6 412.6" stroke="#000" stroke-width="1.3" fill="none"/>
<path d="M88.35 470.5L92.85 475L88.35 479.5L83.85 475Z" fill="#000"/>
<path d="M125.1 470L129.6 474.5L125.1 479L120.6 474.5Z" fill="#000"/>
<path d="M161.85 455.4L166.35 459.9L161.85 464.4L157.35 459.9Z" fill="#000"/>
<path d="M198.6 434.2L203.1 438.7L198.6 443.2L194.1 438.7Z" fill="#000"/>
<path d="M235.35 428.4L239.85 432.9L235.35 437.4L230.85 432.9Z" fill="#000"/>
<path d="M272.1 425.1L276.6 429.6L272.1 434.1L267.6 429.6Z" fill="#000"/>
<path d="M308.85 416.3L313.35 420.8L308.85 425.3L304.35 420.8Z" fill="#000"/>
<path d="M345.6 408.1L350.1 412.6L345.6 417.1L341.1 412.6Z" fill="#000"/>
<path d="M88.35 472.3L125.1 461.1L161.85 437.4L198.6 436.9L235.35 421.5L272.1 411L308.85 398L345.6 384.6" stroke="#8a8a8a" stroke-width="0.9" fill="none" stroke-dasharray="1,1"/>
<circle cx="88.35" cy="472.3" r="3.1" fill="#fff" stroke="#333" stroke-width="0.9"/>
<circle cx="125.1" cy="461.1" r="3.1" fill="#fff" stroke="#333" stroke-width="0.9"/>
<circle cx="161.85" cy="437.4" r="3.1" fill="#fff" stroke="#333" stroke-width="0.9"/>
<circle cx="198.6" cy="436.9" r="3.1" fill="#fff" stroke="#333" stroke-width="0.9"/>
<circle cx="235.35" cy="421.5" r="3.1" fill="#fff" stroke="#333" stroke-width="0.9"/>
<circle cx="272.1" cy="411" r="3.1" fill="#fff" stroke="#333" stroke-width="0.9"/>
<circle cx="308.85" cy="398" r="3.1" fill="#fff" stroke="#333" stroke-width="0.9"/>
<circle cx="345.6" cy="384.6" r="3.1" fill="#fff" stroke="#333" stroke-width="0.9"/>
<path d="M88.35 480.4L125.1 439.4L161.85 425.4L198.6 410.7L235.35 402.2L272.1 392.1L308.85 354.6L345.6 348.8" stroke="#000" stroke-width="0.9" fill="none" stroke-dasharray="1,1"/>
<circle cx="88.35" cy="480.4" r="3.6" fill="#000"/>
<circle cx="125.1" cy="439.4" r="3.6" fill="#000"/>
<circle cx="161.85" cy="425.4" r="3.6" fill="#000"/>
<circle cx="198.6" cy="410.7" r="3.6" fill="#000"/>
<circle cx="235.35" cy="402.2" r="3.6" fill="#000"/>
<circle cx="272.1" cy="392.1" r="3.6" fill="#000"/>
<circle cx="308.85" cy="354.6" r="3.6" fill="#000"/>
<circle cx="345.6" cy="348.8" r="3.6" fill="#000"/>
<path d="M88.35 438.3L125.1 437L161.85 419.8L198.6 405.8L235.35 411.2L272.1 385L308.85 343.4L345.6 324.3" stroke="#8a8a8a" stroke-width="1.0" fill="none"/>
<rect x="85.55" y="435.5" width="5.6" height="5.6" fill="#fff" stroke="#666" stroke-width="0.9"/>
<rect x="122.3" y="434.2" width="5.6" height="5.6" fill="#fff" stroke="#666" stroke-width="0.9"/>
<rect x="159.05" y="417" width="5.6" height="5.6" fill="#fff" stroke="#666" stroke-width="0.9"/>
<rect x="195.8" y="403" width="5.6" height="5.6" fill="#fff" stroke="#666" stroke-width="0.9"/>
<rect x="232.55" y="408.4" width="5.6" height="5.6" fill="#fff" stroke="#666" stroke-width="0.9"/>
<rect x="269.3" y="382.2" width="5.6" height="5.6" fill="#fff" stroke="#666" stroke-width="0.9"/>
<rect x="306.05" y="340.6" width="5.6" height="5.6" fill="#fff" stroke="#666" stroke-width="0.9"/>
<rect x="342.8" y="321.5" width="5.6" height="5.6" fill="#fff" stroke="#666" stroke-width="0.9"/>
<path d="M88.35 419.5L125.1 407.6L161.85 403.2L198.6 396.7L235.35 395.7L272.1 376.5L308.85 336.7L345.6 295.1" stroke="#000" stroke-width="1.3" fill="none"/>
<rect x="85.25" y="416.4" width="6.2" height="6.2" fill="#000"/>
<rect x="122" y="404.5" width="6.2" height="6.2" fill="#000"/>
<rect x="158.75" y="400.1" width="6.2" height="6.2" fill="#000"/>
<rect x="195.5" y="393.6" width="6.2" height="6.2" fill="#000"/>
<rect x="232.25" y="392.6" width="6.2" height="6.2" fill="#000"/>
<rect x="269" y="373.4" width="6.2" height="6.2" fill="#000"/>
<rect x="305.75" y="333.6" width="6.2" height="6.2" fill="#000"/>
<rect x="342.5" y="292" width="6.2" height="6.2" fill="#000"/>
<path d="M88.5 466V470.7" stroke="#000" stroke-opacity="0.44" stroke-width="1" fill="none"/>
<path d="M88.5 479.3V485" stroke="#000" stroke-opacity="0.44" stroke-width="1" fill="none"/>
<path d="M125.5 462V470.2" stroke="#000" stroke-opacity="0.44" stroke-width="1" fill="none"/>
<path d="M125.5 478.8V488.2" stroke="#000" stroke-opacity="0.44" stroke-width="1" fill="none"/>
<path d="M161.5 452V455.6" stroke="#000" stroke-opacity="0.44" stroke-width="1" fill="none"/>
<path d="M161.5 464.2V468" stroke="#000" stroke-opacity="0.44" stroke-width="1" fill="none"/>
<path d="M198.5 430V434.4" stroke="#000" stroke-opacity="0.44" stroke-width="1" fill="none"/>
<path d="M198.5 443V448" stroke="#000" stroke-opacity="0.44" stroke-width="1" fill="none"/>
<path d="M235.5 424V428.6" stroke="#000" stroke-opacity="0.44" stroke-width="1" fill="none"/>
<path d="M235.5 437.2V442" stroke="#000" stroke-opacity="0.44" stroke-width="1" fill="none"/>
<path d="M272.5 418V425.3" stroke="#000" stroke-opacity="0.44" stroke-width="1" fill="none"/>
<path d="M272.5 433.9V441" stroke="#000" stroke-opacity="0.44" stroke-width="1" fill="none"/>
<path d="M308.5 410V416.5" stroke="#000" stroke-opacity="0.44" stroke-width="1" fill="none"/>
<path d="M308.5 425.1V432" stroke="#000" stroke-opacity="0.44" stroke-width="1" fill="none"/>
<path d="M345.5 405V408.3" stroke="#000" stroke-opacity="0.44" stroke-width="1" fill="none"/>
<path d="M345.5 416.9V419.8" stroke="#000" stroke-opacity="0.44" stroke-width="1" fill="none"/>
<path d="M88.5 463.6V468.8" stroke="#000" stroke-opacity="0.44" stroke-width="1" fill="none"/>
<path d="M88.5 475.8V482" stroke="#000" stroke-opacity="0.44" stroke-width="1" fill="none"/>
<path d="M125.5 451V457.6" stroke="#000" stroke-opacity="0.44" stroke-width="1" fill="none"/>
<path d="M125.5 464.6V471" stroke="#000" stroke-opacity="0.44" stroke-width="1" fill="none"/>
<path d="M161.5 428V433.9" stroke="#000" stroke-opacity="0.44" stroke-width="1" fill="none"/>
<path d="M161.5 440.9V447" stroke="#000" stroke-opacity="0.44" stroke-width="1" fill="none"/>
<path d="M198.5 428V433.4" stroke="#000" stroke-opacity="0.44" stroke-width="1" fill="none"/>
<path d="M198.5 440.4V446" stroke="#000" stroke-opacity="0.44" stroke-width="1" fill="none"/>
<path d="M235.5 412V418" stroke="#000" stroke-opacity="0.44" stroke-width="1" fill="none"/>
<path d="M235.5 425V431" stroke="#000" stroke-opacity="0.44" stroke-width="1" fill="none"/>
<path d="M272.5 400V407.5" stroke="#000" stroke-opacity="0.44" stroke-width="1" fill="none"/>
<path d="M272.5 414.5V422" stroke="#000" stroke-opacity="0.44" stroke-width="1" fill="none"/>
<path d="M308.5 384V394.5" stroke="#000" stroke-opacity="0.44" stroke-width="1" fill="none"/>
<path d="M308.5 401.5V412" stroke="#000" stroke-opacity="0.44" stroke-width="1" fill="none"/>
<path d="M345.5 371V381.1" stroke="#000" stroke-opacity="0.44" stroke-width="1" fill="none"/>
<path d="M345.5 388.1V398.6" stroke="#000" stroke-opacity="0.44" stroke-width="1" fill="none"/>
<path d="M88.5 470V476.9" stroke="#000" stroke-opacity="0.44" stroke-width="1" fill="none"/>
<path d="M88.5 483.9V490.4" stroke="#000" stroke-opacity="0.44" stroke-width="1" fill="none"/>
<path d="M125.5 430V435.9" stroke="#000" stroke-opacity="0.44" stroke-width="1" fill="none"/>
<path d="M125.5 442.9V449" stroke="#000" stroke-opacity="0.44" stroke-width="1" fill="none"/>
<path d="M161.5 416V421.9" stroke="#000" stroke-opacity="0.44" stroke-width="1" fill="none"/>
<path d="M161.5 428.9V435" stroke="#000" stroke-opacity="0.44" stroke-width="1" fill="none"/>
<path d="M198.5 402V407.2" stroke="#000" stroke-opacity="0.44" stroke-width="1" fill="none"/>
<path d="M198.5 414.2V419" stroke="#000" stroke-opacity="0.44" stroke-width="1" fill="none"/>
<path d="M235.5 388V398.7" stroke="#000" stroke-opacity="0.44" stroke-width="1" fill="none"/>
<path d="M235.5 405.7V425" stroke="#000" stroke-opacity="0.44" stroke-width="1" fill="none"/>
<path d="M272.5 383V388.6" stroke="#000" stroke-opacity="0.44" stroke-width="1" fill="none"/>
<path d="M272.5 395.6V401" stroke="#000" stroke-opacity="0.44" stroke-width="1" fill="none"/>
<path d="M308.5 344V351.1" stroke="#000" stroke-opacity="0.44" stroke-width="1" fill="none"/>
<path d="M308.5 358.1V365.9" stroke="#000" stroke-opacity="0.44" stroke-width="1" fill="none"/>
<path d="M345.5 333.7V345.3" stroke="#000" stroke-opacity="0.44" stroke-width="1" fill="none"/>
<path d="M345.5 352.3V364.4" stroke="#000" stroke-opacity="0.44" stroke-width="1" fill="none"/>
<path d="M88.5 428V435.1" stroke="#000" stroke-opacity="0.44" stroke-width="1" fill="none"/>
<path d="M88.5 441.5V448.4" stroke="#000" stroke-opacity="0.44" stroke-width="1" fill="none"/>
<path d="M125.5 428V433.8" stroke="#000" stroke-opacity="0.44" stroke-width="1" fill="none"/>
<path d="M125.5 440.2V446" stroke="#000" stroke-opacity="0.44" stroke-width="1" fill="none"/>
<path d="M161.5 411V416.6" stroke="#000" stroke-opacity="0.44" stroke-width="1" fill="none"/>
<path d="M161.5 423V428" stroke="#000" stroke-opacity="0.44" stroke-width="1" fill="none"/>
<path d="M198.5 398V402.6" stroke="#000" stroke-opacity="0.44" stroke-width="1" fill="none"/>
<path d="M198.5 409V414" stroke="#000" stroke-opacity="0.44" stroke-width="1" fill="none"/>
<path d="M235.5 402V408" stroke="#000" stroke-opacity="0.44" stroke-width="1" fill="none"/>
<path d="M235.5 414.4V420" stroke="#000" stroke-opacity="0.44" stroke-width="1" fill="none"/>
<path d="M272.5 377V381.8" stroke="#000" stroke-opacity="0.44" stroke-width="1" fill="none"/>
<path d="M272.5 388.2V393" stroke="#000" stroke-opacity="0.44" stroke-width="1" fill="none"/>
<path d="M308.5 336V340.2" stroke="#000" stroke-opacity="0.44" stroke-width="1" fill="none"/>
<path d="M308.5 346.6V351" stroke="#000" stroke-opacity="0.44" stroke-width="1" fill="none"/>
<path d="M345.5 314.6V321.1" stroke="#000" stroke-opacity="0.44" stroke-width="1" fill="none"/>
<path d="M345.5 327.5V334" stroke="#000" stroke-opacity="0.44" stroke-width="1" fill="none"/>
<path d="M88.5 411.2V416.4" stroke="#000" stroke-opacity="0.44" stroke-width="1" fill="none"/>
<path d="M88.5 422.6V428" stroke="#000" stroke-opacity="0.44" stroke-width="1" fill="none"/>
<path d="M125.5 396V404.5" stroke="#000" stroke-opacity="0.44" stroke-width="1" fill="none"/>
<path d="M125.5 410.7V422.6" stroke="#000" stroke-opacity="0.44" stroke-width="1" fill="none"/>
<path d="M161.5 395V400.1" stroke="#000" stroke-opacity="0.44" stroke-width="1" fill="none"/>
<path d="M161.5 406.3V411" stroke="#000" stroke-opacity="0.44" stroke-width="1" fill="none"/>
<path d="M198.5 389V393.6" stroke="#000" stroke-opacity="0.44" stroke-width="1" fill="none"/>
<path d="M198.5 399.8V409" stroke="#000" stroke-opacity="0.44" stroke-width="1" fill="none"/>
<path d="M235.5 385.9V392.6" stroke="#000" stroke-opacity="0.44" stroke-width="1" fill="none"/>
<path d="M235.5 398.8V414" stroke="#000" stroke-opacity="0.44" stroke-width="1" fill="none"/>
<path d="M272.5 369V373.4" stroke="#000" stroke-opacity="0.44" stroke-width="1" fill="none"/>
<path d="M272.5 379.6V384" stroke="#000" stroke-opacity="0.44" stroke-width="1" fill="none"/>
<path d="M308.5 329.6V333.6" stroke="#000" stroke-opacity="0.44" stroke-width="1" fill="none"/>
<path d="M308.5 339.8V344" stroke="#000" stroke-opacity="0.44" stroke-width="1" fill="none"/>
<path d="M345.5 282.6V292" stroke="#000" stroke-opacity="0.44" stroke-width="1" fill="none"/>
<path d="M345.5 298.2V307.4" stroke="#000" stroke-opacity="0.44" stroke-width="1" fill="none"/>
<path d="M86.9 466H90.1M86.9 485H90.1" stroke="#000" stroke-opacity="0.75" stroke-width="1" fill="none"/>
<path d="M123.9 462H127.1M123.9 488.2H127.1" stroke="#000" stroke-opacity="0.75" stroke-width="1" fill="none"/>
<path d="M159.9 452H163.1M159.9 468H163.1" stroke="#000" stroke-opacity="0.75" stroke-width="1" fill="none"/>
<path d="M196.9 430H200.1M196.9 448H200.1" stroke="#000" stroke-opacity="0.75" stroke-width="1" fill="none"/>
<path d="M233.9 424H237.1M233.9 442H237.1" stroke="#000" stroke-opacity="0.75" stroke-width="1" fill="none"/>
<path d="M270.9 418H274.1M270.9 441H274.1" stroke="#000" stroke-opacity="0.75" stroke-width="1" fill="none"/>
<path d="M306.9 410H310.1M306.9 432H310.1" stroke="#000" stroke-opacity="0.75" stroke-width="1" fill="none"/>
<path d="M343.9 405H347.1M343.9 419.8H347.1" stroke="#000" stroke-opacity="0.75" stroke-width="1" fill="none"/>
<path d="M86.9 463.6H90.1M86.9 482H90.1" stroke="#000" stroke-opacity="0.75" stroke-width="1" fill="none"/>
<path d="M123.9 451H127.1M123.9 471H127.1" stroke="#000" stroke-opacity="0.75" stroke-width="1" fill="none"/>
<path d="M159.9 428H163.1M159.9 447H163.1" stroke="#000" stroke-opacity="0.75" stroke-width="1" fill="none"/>
<path d="M196.9 428H200.1M196.9 446H200.1" stroke="#000" stroke-opacity="0.75" stroke-width="1" fill="none"/>
<path d="M233.9 412H237.1M233.9 431H237.1" stroke="#000" stroke-opacity="0.75" stroke-width="1" fill="none"/>
<path d="M270.9 400H274.1M270.9 422H274.1" stroke="#000" stroke-opacity="0.75" stroke-width="1" fill="none"/>
<path d="M306.9 384H310.1M306.9 412H310.1" stroke="#000" stroke-opacity="0.75" stroke-width="1" fill="none"/>
<path d="M343.9 371H347.1M343.9 398.6H347.1" stroke="#000" stroke-opacity="0.75" stroke-width="1" fill="none"/>
<path d="M86.9 470H90.1M86.9 490.4H90.1" stroke="#000" stroke-opacity="0.75" stroke-width="1" fill="none"/>
<path d="M123.9 430H127.1M123.9 449H127.1" stroke="#000" stroke-opacity="0.75" stroke-width="1" fill="none"/>
<path d="M159.9 416H163.1M159.9 435H163.1" stroke="#000" stroke-opacity="0.75" stroke-width="1" fill="none"/>
<path d="M196.9 402H200.1M196.9 419H200.1" stroke="#000" stroke-opacity="0.75" stroke-width="1" fill="none"/>
<path d="M233.9 388H237.1M233.9 425H237.1" stroke="#000" stroke-opacity="0.75" stroke-width="1" fill="none"/>
<path d="M270.9 383H274.1M270.9 401H274.1" stroke="#000" stroke-opacity="0.75" stroke-width="1" fill="none"/>
<path d="M306.9 344H310.1M306.9 365.9H310.1" stroke="#000" stroke-opacity="0.75" stroke-width="1" fill="none"/>
<path d="M343.9 333.7H347.1M343.9 364.4H347.1" stroke="#000" stroke-opacity="0.75" stroke-width="1" fill="none"/>
<path d="M86.9 428H90.1M86.9 448.4H90.1" stroke="#000" stroke-opacity="0.75" stroke-width="1" fill="none"/>
<path d="M123.9 428H127.1M123.9 446H127.1" stroke="#000" stroke-opacity="0.75" stroke-width="1" fill="none"/>
<path d="M159.9 411H163.1M159.9 428H163.1" stroke="#000" stroke-opacity="0.75" stroke-width="1" fill="none"/>
<path d="M196.9 398H200.1M196.9 414H200.1" stroke="#000" stroke-opacity="0.75" stroke-width="1" fill="none"/>
<path d="M233.9 402H237.1M233.9 420H237.1" stroke="#000" stroke-opacity="0.75" stroke-width="1" fill="none"/>
<path d="M270.9 377H274.1M270.9 393H274.1" stroke="#000" stroke-opacity="0.75" stroke-width="1" fill="none"/>
<path d="M306.9 336H310.1M306.9 351H310.1" stroke="#000" stroke-opacity="0.75" stroke-width="1" fill="none"/>
<path d="M343.9 314.6H347.1M343.9 334H347.1" stroke="#000" stroke-opacity="0.75" stroke-width="1" fill="none"/>
<path d="M86.9 411.2H90.1M86.9 428H90.1" stroke="#000" stroke-opacity="0.75" stroke-width="1" fill="none"/>
<path d="M123.9 396H127.1M123.9 422.6H127.1" stroke="#000" stroke-opacity="0.75" stroke-width="1" fill="none"/>
<path d="M159.9 395H163.1M159.9 411H163.1" stroke="#000" stroke-opacity="0.75" stroke-width="1" fill="none"/>
<path d="M196.9 389H200.1M196.9 409H200.1" stroke="#000" stroke-opacity="0.75" stroke-width="1" fill="none"/>
<path d="M233.9 385.9H237.1M233.9 414H237.1" stroke="#000" stroke-opacity="0.75" stroke-width="1" fill="none"/>
<path d="M270.9 369H274.1M270.9 384H274.1" stroke="#000" stroke-opacity="0.75" stroke-width="1" fill="none"/>
<path d="M306.9 329.6H310.1M306.9 344H310.1" stroke="#000" stroke-opacity="0.75" stroke-width="1" fill="none"/>
<path d="M343.9 282.6H347.1M343.9 307.4H347.1" stroke="#000" stroke-opacity="0.75" stroke-width="1" fill="none"/>
<text x="121.3" y="481.2" font-size="10.4" text-anchor="end" fill="#000">a</text>
<text x="158.05" y="470.6" font-size="10.4" text-anchor="end" fill="#000">a</text>
<text x="194.8" y="449.7" font-size="10.4" text-anchor="end" fill="#000">a</text>
<text x="231.55" y="439.6" font-size="10.4" text-anchor="end" fill="#000">a</text>
<text x="268.3" y="436.8" font-size="10.4" text-anchor="end" fill="#000">a</text>
<text x="305.05" y="427.5" font-size="10.4" text-anchor="end" fill="#000">a</text>
<text x="352.2" y="415.5" font-size="10.4" fill="#000">a</text>
<text x="121.3" y="463.8" font-size="10.4" text-anchor="end" fill="#000">a</text>
<text x="158.05" y="446" font-size="10.4" text-anchor="end" fill="#000">b</text>
<text x="194.8" y="435.6" font-size="10.4" text-anchor="end" fill="#000">a</text>
<text x="231.55" y="425.1" font-size="10.4" text-anchor="end" fill="#000">ab</text>
<text x="268.3" y="414.6" font-size="10.4" text-anchor="end" fill="#000">b</text>
<text x="305.05" y="401.6" font-size="10.4" text-anchor="end" fill="#000">b</text>
<text x="352.2" y="388.6" font-size="10.4" fill="#000">b</text>
<text x="121.3" y="443" font-size="10.4" text-anchor="end" fill="#000">b</text>
<text x="158.05" y="433" font-size="10.4" text-anchor="end" fill="#000">bc</text>
<text x="194.8" y="420.3" font-size="10.4" text-anchor="end" fill="#000">b</text>
<text x="231.55" y="402.4" font-size="10.4" text-anchor="end" fill="#000">c</text>
<text x="268.3" y="400.8" font-size="10.4" text-anchor="end" fill="#000">c</text>
<text x="305.05" y="360.3" font-size="10.4" text-anchor="end" fill="#000">c</text>
<text x="352.2" y="351.7" font-size="10.4" fill="#000">c</text>
<text x="83.35" y="441.9" font-size="10.4" text-anchor="end" fill="#000">b</text>
<text x="121.3" y="436.6" font-size="10.4" text-anchor="end" fill="#000">b</text>
<text x="158.05" y="422.5" font-size="10.4" text-anchor="end" fill="#000">c</text>
<text x="194.8" y="409.4" font-size="10.4" text-anchor="end" fill="#000">b</text>
<text x="231.55" y="414.8" font-size="10.4" text-anchor="end" fill="#000">bc</text>
<text x="268.3" y="388.7" font-size="10.4" text-anchor="end" fill="#000">c</text>
<text x="305.05" y="350.5" font-size="10.4" text-anchor="end" fill="#000">cd</text>
<text x="352.2" y="328.3" font-size="10.4" fill="#000">d</text>
<text x="83.35" y="422.2" font-size="10.4" text-anchor="end" fill="#000">c</text>
<text x="121.3" y="410.3" font-size="10.4" text-anchor="end" fill="#000">c</text>
<text x="158.05" y="402.8" font-size="10.4" text-anchor="end" fill="#000">d</text>
<text x="194.8" y="397.3" font-size="10.4" text-anchor="end" fill="#000">b</text>
<text x="231.55" y="394.9" font-size="10.4" text-anchor="end" fill="#000">c</text>
<text x="268.3" y="379.2" font-size="10.4" text-anchor="end" fill="#000">c</text>
<text x="305.05" y="340.3" font-size="10.4" text-anchor="end" fill="#000">d</text>
<text x="352.2" y="298.2" font-size="10.4" fill="#000">e</text>
<text x="82.1" y="472.7" font-size="10.4" text-anchor="end" fill="#000">a</text>
<text x="82.1" y="479.2" font-size="10.4" text-anchor="end" fill="#000">a</text>
<text x="82.1" y="485.7" font-size="10.4" text-anchor="end" fill="#000">a</text>
<rect x="447.3" y="272.8" width="330.6" height="243.5" fill="none" stroke="#333" stroke-width="1.2"/>
<line x1="447.3" y1="516.3" x2="447.3" y2="520.9" stroke="#333" stroke-width="1.2"/>
<text x="447.3" y="532.7" font-size="10.4" text-anchor="middle" fill="#000">0</text>
<line x1="484.15" y1="516.3" x2="484.15" y2="520.9" stroke="#333" stroke-width="1.2"/>
<text x="484.15" y="532.7" font-size="10.4" text-anchor="middle" fill="#000">1</text>
<line x1="520.9" y1="516.3" x2="520.9" y2="520.9" stroke="#333" stroke-width="1.2"/>
<text x="520.9" y="532.7" font-size="10.4" text-anchor="middle" fill="#000">2</text>
<line x1="557.65" y1="516.3" x2="557.65" y2="520.9" stroke="#333" stroke-width="1.2"/>
<text x="557.65" y="532.7" font-size="10.4" text-anchor="middle" fill="#000">3</text>
<line x1="594.4" y1="516.3" x2="594.4" y2="520.9" stroke="#333" stroke-width="1.2"/>
<text x="594.4" y="532.7" font-size="10.4" text-anchor="middle" fill="#000">4</text>
<line x1="631.15" y1="516.3" x2="631.15" y2="520.9" stroke="#333" stroke-width="1.2"/>
<text x="631.15" y="532.7" font-size="10.4" text-anchor="middle" fill="#000">5</text>
<line x1="667.9" y1="516.3" x2="667.9" y2="520.9" stroke="#333" stroke-width="1.2"/>
<text x="667.9" y="532.7" font-size="10.4" text-anchor="middle" fill="#000">6</text>
<line x1="704.65" y1="516.3" x2="704.65" y2="520.9" stroke="#333" stroke-width="1.2"/>
<text x="704.65" y="532.7" font-size="10.4" text-anchor="middle" fill="#000">7</text>
<line x1="741.4" y1="516.3" x2="741.4" y2="520.9" stroke="#333" stroke-width="1.2"/>
<text x="741.4" y="532.7" font-size="10.4" text-anchor="middle" fill="#000">8</text>
<line x1="777.9" y1="516.3" x2="777.9" y2="520.9" stroke="#333" stroke-width="1.2"/>
<text x="777.9" y="532.7" font-size="10.4" text-anchor="middle" fill="#000">9</text>
<line x1="442.7" y1="284.2" x2="447.3" y2="284.2" stroke="#333" stroke-width="1.2"/>
<text x="438" y="287.9" font-size="10.4" text-anchor="end" fill="#000">6000</text>
<line x1="442.7" y1="322.9" x2="447.3" y2="322.9" stroke="#333" stroke-width="1.2"/>
<text x="438" y="326.6" font-size="10.4" text-anchor="end" fill="#000">5500</text>
<line x1="442.7" y1="361.6" x2="447.3" y2="361.6" stroke="#333" stroke-width="1.2"/>
<text x="438" y="365.3" font-size="10.4" text-anchor="end" fill="#000">5000</text>
<line x1="442.7" y1="400.3" x2="447.3" y2="400.3" stroke="#333" stroke-width="1.2"/>
<text x="438" y="404" font-size="10.4" text-anchor="end" fill="#000">4500</text>
<line x1="442.7" y1="439" x2="447.3" y2="439" stroke="#333" stroke-width="1.2"/>
<text x="438" y="442.7" font-size="10.4" text-anchor="end" fill="#000">4000</text>
<line x1="442.7" y1="477.5" x2="447.3" y2="477.5" stroke="#333" stroke-width="1.2"/>
<text x="438" y="481.2" font-size="10.4" text-anchor="end" fill="#000">3500</text>
<line x1="442.7" y1="516.2" x2="447.3" y2="516.2" stroke="#333" stroke-width="1.2"/>
<text x="438" y="519.9" font-size="10.4" text-anchor="end" fill="#000">3000</text>
<text x="452.2" y="290.2" font-size="15" fill="#000">D</text>
<text transform="translate(406.6,393) rotate(-90)" font-size="10.6" text-anchor="middle" fill="#000">POD activity (U g FW<tspan font-size="7.5" dy="-3.6">−1</tspan><tspan dy="3.6">)</tspan></text>
<path d="M484.15 476.5L520.9 469.4L557.65 461.9L594.4 458.8L631.15 450.1L667.9 441.2L704.65 425.7L741.4 391.5" stroke="#000" stroke-width="1.3" fill="none"/>
<path d="M484.15 472L488.65 476.5L484.15 481L479.65 476.5Z" fill="#000"/>
<path d="M520.9 464.9L525.4 469.4L520.9 473.9L516.4 469.4Z" fill="#000"/>
<path d="M557.65 457.4L562.15 461.9L557.65 466.4L553.15 461.9Z" fill="#000"/>
<path d="M594.4 454.3L598.9 458.8L594.4 463.3L589.9 458.8Z" fill="#000"/>
<path d="M631.15 445.6L635.65 450.1L631.15 454.6L626.65 450.1Z" fill="#000"/>
<path d="M667.9 436.7L672.4 441.2L667.9 445.7L663.4 441.2Z" fill="#000"/>
<path d="M704.65 421.2L709.15 425.7L704.65 430.2L700.15 425.7Z" fill="#000"/>
<path d="M741.4 387L745.9 391.5L741.4 396L736.9 391.5Z" fill="#000"/>
<path d="M484.15 462.8L520.9 447.8L557.65 443.5L594.4 441.9L631.15 440L667.9 431.8L704.65 419.2L741.4 385" stroke="#8a8a8a" stroke-width="0.9" fill="none" stroke-dasharray="1,1"/>
<circle cx="484.15" cy="462.8" r="3.1" fill="#fff" stroke="#333" stroke-width="0.9"/>
<circle cx="520.9" cy="447.8" r="3.1" fill="#fff" stroke="#333" stroke-width="0.9"/>
<circle cx="557.65" cy="443.5" r="3.1" fill="#fff" stroke="#333" stroke-width="0.9"/>
<circle cx="594.4" cy="441.9" r="3.1" fill="#fff" stroke="#333" stroke-width="0.9"/>
<circle cx="631.15" cy="440" r="3.1" fill="#fff" stroke="#333" stroke-width="0.9"/>
<circle cx="667.9" cy="431.8" r="3.1" fill="#fff" stroke="#333" stroke-width="0.9"/>
<circle cx="704.65" cy="419.2" r="3.1" fill="#fff" stroke="#333" stroke-width="0.9"/>
<circle cx="741.4" cy="385" r="3.1" fill="#fff" stroke="#333" stroke-width="0.9"/>
<path d="M484.15 442.8L520.9 421.2L557.65 397.2L594.4 381.2L631.15 361.6L667.9 359.5L704.65 345L741.4 349.9" stroke="#000" stroke-width="0.9" fill="none" stroke-dasharray="1,1"/>
<circle cx="484.15" cy="442.8" r="3.6" fill="#000"/>
<circle cx="520.9" cy="421.2" r="3.6" fill="#000"/>
<circle cx="557.65" cy="397.2" r="3.6" fill="#000"/>
<circle cx="594.4" cy="381.2" r="3.6" fill="#000"/>
<circle cx="631.15" cy="361.6" r="3.6" fill="#000"/>
<circle cx="667.9" cy="359.5" r="3.6" fill="#000"/>
<circle cx="704.65" cy="345" r="3.6" fill="#000"/>
<circle cx="741.4" cy="349.9" r="3.6" fill="#000"/>
<path d="M484.15 416L520.9 412.2L557.65 381.6L594.4 376L631.15 374.8L667.9 368.2L704.65 342.8L741.4 341.8" stroke="#8a8a8a" stroke-width="1.0" fill="none"/>
<rect x="481.35" y="413.2" width="5.6" height="5.6" fill="#fff" stroke="#666" stroke-width="0.9"/>
<rect x="518.1" y="409.4" width="5.6" height="5.6" fill="#fff" stroke="#666" stroke-width="0.9"/>
<rect x="554.85" y="378.8" width="5.6" height="5.6" fill="#fff" stroke="#666" stroke-width="0.9"/>
<rect x="591.6" y="373.2" width="5.6" height="5.6" fill="#fff" stroke="#666" stroke-width="0.9"/>
<rect x="628.35" y="372" width="5.6" height="5.6" fill="#fff" stroke="#666" stroke-width="0.9"/>
<rect x="665.1" y="365.4" width="5.6" height="5.6" fill="#fff" stroke="#666" stroke-width="0.9"/>
<rect x="701.85" y="340" width="5.6" height="5.6" fill="#fff" stroke="#666" stroke-width="0.9"/>
<rect x="738.6" y="339" width="5.6" height="5.6" fill="#fff" stroke="#666" stroke-width="0.9"/>
<path d="M484.15 408.9L520.9 407.5L557.65 393L594.4 383.5L631.15 370.6L667.9 365.9L704.65 312.5L741.4 300.2" stroke="#000" stroke-width="1.3" fill="none"/>
<rect x="481.05" y="405.8" width="6.2" height="6.2" fill="#000"/>
<rect x="517.8" y="404.4" width="6.2" height="6.2" fill="#000"/>
<rect x="554.55" y="389.9" width="6.2" height="6.2" fill="#000"/>
<rect x="591.3" y="380.4" width="6.2" height="6.2" fill="#000"/>
<rect x="628.05" y="367.5" width="6.2" height="6.2" fill="#000"/>
<rect x="664.8" y="362.8" width="6.2" height="6.2" fill="#000"/>
<rect x="701.55" y="309.4" width="6.2" height="6.2" fill="#000"/>
<rect x="738.3" y="297.1" width="6.2" height="6.2" fill="#000"/>
<path d="M484.5 460V472.2" stroke="#000" stroke-opacity="0.44" stroke-width="1" fill="none"/>
<path d="M484.5 480.8V492" stroke="#000" stroke-opacity="0.44" stroke-width="1" fill="none"/>
<path d="M520.5 453V465.1" stroke="#000" stroke-opacity="0.44" stroke-width="1" fill="none"/>
<path d="M520.5 473.7V480.5" stroke="#000" stroke-opacity="0.44" stroke-width="1" fill="none"/>
<path d="M557.5 440V457.6" stroke="#000" stroke-opacity="0.44" stroke-width="1" fill="none"/>
<path d="M557.5 466.2V482.4" stroke="#000" stroke-opacity="0.44" stroke-width="1" fill="none"/>
<path d="M594.5 440V454.5" stroke="#000" stroke-opacity="0.44" stroke-width="1" fill="none"/>
<path d="M594.5 463.1V476" stroke="#000" stroke-opacity="0.44" stroke-width="1" fill="none"/>
<path d="M631.5 435V445.8" stroke="#000" stroke-opacity="0.44" stroke-width="1" fill="none"/>
<path d="M631.5 454.4V466" stroke="#000" stroke-opacity="0.44" stroke-width="1" fill="none"/>
<path d="M667.5 425V436.9" stroke="#000" stroke-opacity="0.44" stroke-width="1" fill="none"/>
<path d="M667.5 445.5V457" stroke="#000" stroke-opacity="0.44" stroke-width="1" fill="none"/>
<path d="M704.5 410V421.4" stroke="#000" stroke-opacity="0.44" stroke-width="1" fill="none"/>
<path d="M704.5 430V439.3" stroke="#000" stroke-opacity="0.44" stroke-width="1" fill="none"/>
<path d="M741.5 372V387.2" stroke="#000" stroke-opacity="0.44" stroke-width="1" fill="none"/>
<path d="M741.5 395.8V411.7" stroke="#000" stroke-opacity="0.44" stroke-width="1" fill="none"/>
<path d="M484.5 447V459.3" stroke="#000" stroke-opacity="0.44" stroke-width="1" fill="none"/>
<path d="M484.5 466.3V478" stroke="#000" stroke-opacity="0.44" stroke-width="1" fill="none"/>
<path d="M520.5 432V444.3" stroke="#000" stroke-opacity="0.44" stroke-width="1" fill="none"/>
<path d="M520.5 451.3V463" stroke="#000" stroke-opacity="0.44" stroke-width="1" fill="none"/>
<path d="M557.5 428V440" stroke="#000" stroke-opacity="0.44" stroke-width="1" fill="none"/>
<path d="M557.5 447V460" stroke="#000" stroke-opacity="0.44" stroke-width="1" fill="none"/>
<path d="M594.5 426V438.4" stroke="#000" stroke-opacity="0.44" stroke-width="1" fill="none"/>
<path d="M594.5 445.4V458" stroke="#000" stroke-opacity="0.44" stroke-width="1" fill="none"/>
<path d="M631.5 425V436.5" stroke="#000" stroke-opacity="0.44" stroke-width="1" fill="none"/>
<path d="M631.5 443.5V456" stroke="#000" stroke-opacity="0.44" stroke-width="1" fill="none"/>
<path d="M667.5 416V428.3" stroke="#000" stroke-opacity="0.44" stroke-width="1" fill="none"/>
<path d="M667.5 435.3V448" stroke="#000" stroke-opacity="0.44" stroke-width="1" fill="none"/>
<path d="M704.5 408.5V415.7" stroke="#000" stroke-opacity="0.44" stroke-width="1" fill="none"/>
<path d="M704.5 422.7V431" stroke="#000" stroke-opacity="0.44" stroke-width="1" fill="none"/>
<path d="M741.5 370V381.5" stroke="#000" stroke-opacity="0.44" stroke-width="1" fill="none"/>
<path d="M741.5 388.5V400" stroke="#000" stroke-opacity="0.44" stroke-width="1" fill="none"/>
<path d="M484.5 428V439.3" stroke="#000" stroke-opacity="0.44" stroke-width="1" fill="none"/>
<path d="M484.5 446.3V458" stroke="#000" stroke-opacity="0.44" stroke-width="1" fill="none"/>
<path d="M520.5 406V417.7" stroke="#000" stroke-opacity="0.44" stroke-width="1" fill="none"/>
<path d="M520.5 424.7V436" stroke="#000" stroke-opacity="0.44" stroke-width="1" fill="none"/>
<path d="M557.5 378V393.7" stroke="#000" stroke-opacity="0.44" stroke-width="1" fill="none"/>
<path d="M557.5 400.7V452" stroke="#000" stroke-opacity="0.44" stroke-width="1" fill="none"/>
<path d="M594.5 364V377.7" stroke="#000" stroke-opacity="0.44" stroke-width="1" fill="none"/>
<path d="M594.5 384.7V398" stroke="#000" stroke-opacity="0.44" stroke-width="1" fill="none"/>
<path d="M631.5 350V358.1" stroke="#000" stroke-opacity="0.44" stroke-width="1" fill="none"/>
<path d="M631.5 365.1V374" stroke="#000" stroke-opacity="0.44" stroke-width="1" fill="none"/>
<path d="M667.5 347.5V356" stroke="#000" stroke-opacity="0.44" stroke-width="1" fill="none"/>
<path d="M667.5 363V372" stroke="#000" stroke-opacity="0.44" stroke-width="1" fill="none"/>
<path d="M704.5 330V341.5" stroke="#000" stroke-opacity="0.44" stroke-width="1" fill="none"/>
<path d="M704.5 348.5V359" stroke="#000" stroke-opacity="0.44" stroke-width="1" fill="none"/>
<path d="M741.5 332V346.4" stroke="#000" stroke-opacity="0.44" stroke-width="1" fill="none"/>
<path d="M741.5 353.4V368" stroke="#000" stroke-opacity="0.44" stroke-width="1" fill="none"/>
<path d="M484.5 400V412.8" stroke="#000" stroke-opacity="0.44" stroke-width="1" fill="none"/>
<path d="M484.5 419.2V432" stroke="#000" stroke-opacity="0.44" stroke-width="1" fill="none"/>
<path d="M520.5 397V409" stroke="#000" stroke-opacity="0.44" stroke-width="1" fill="none"/>
<path d="M520.5 415.4V428" stroke="#000" stroke-opacity="0.44" stroke-width="1" fill="none"/>
<path d="M557.5 373V378.4" stroke="#000" stroke-opacity="0.44" stroke-width="1" fill="none"/>
<path d="M557.5 384.8V392" stroke="#000" stroke-opacity="0.44" stroke-width="1" fill="none"/>
<path d="M594.5 361V372.8" stroke="#000" stroke-opacity="0.44" stroke-width="1" fill="none"/>
<path d="M594.5 379.2V392" stroke="#000" stroke-opacity="0.44" stroke-width="1" fill="none"/>
<path d="M631.5 358V371.6" stroke="#000" stroke-opacity="0.44" stroke-width="1" fill="none"/>
<path d="M631.5 378V386" stroke="#000" stroke-opacity="0.44" stroke-width="1" fill="none"/>
<path d="M667.5 350V365" stroke="#000" stroke-opacity="0.44" stroke-width="1" fill="none"/>
<path d="M667.5 371.4V384" stroke="#000" stroke-opacity="0.44" stroke-width="1" fill="none"/>
<path d="M704.5 330V339.6" stroke="#000" stroke-opacity="0.44" stroke-width="1" fill="none"/>
<path d="M704.5 346V359" stroke="#000" stroke-opacity="0.44" stroke-width="1" fill="none"/>
<path d="M741.5 332V338.6" stroke="#000" stroke-opacity="0.44" stroke-width="1" fill="none"/>
<path d="M741.5 345V352" stroke="#000" stroke-opacity="0.44" stroke-width="1" fill="none"/>
<path d="M484.5 392.5V405.8" stroke="#000" stroke-opacity="0.44" stroke-width="1" fill="none"/>
<path d="M484.5 412V425" stroke="#000" stroke-opacity="0.44" stroke-width="1" fill="none"/>
<path d="M520.5 392.5V404.4" stroke="#000" stroke-opacity="0.44" stroke-width="1" fill="none"/>
<path d="M520.5 410.6V422" stroke="#000" stroke-opacity="0.44" stroke-width="1" fill="none"/>
<path d="M557.5 373V389.9" stroke="#000" stroke-opacity="0.44" stroke-width="1" fill="none"/>
<path d="M557.5 396.1V412" stroke="#000" stroke-opacity="0.44" stroke-width="1" fill="none"/>
<path d="M594.5 361V380.4" stroke="#000" stroke-opacity="0.44" stroke-width="1" fill="none"/>
<path d="M594.5 386.6V401.2" stroke="#000" stroke-opacity="0.44" stroke-width="1" fill="none"/>
<path d="M631.5 350V367.5" stroke="#000" stroke-opacity="0.44" stroke-width="1" fill="none"/>
<path d="M631.5 373.7V386" stroke="#000" stroke-opacity="0.44" stroke-width="1" fill="none"/>
<path d="M667.5 348V362.8" stroke="#000" stroke-opacity="0.44" stroke-width="1" fill="none"/>
<path d="M667.5 369V384" stroke="#000" stroke-opacity="0.44" stroke-width="1" fill="none"/>
<path d="M704.5 293V309.4" stroke="#000" stroke-opacity="0.44" stroke-width="1" fill="none"/>
<path d="M704.5 315.6V332" stroke="#000" stroke-opacity="0.44" stroke-width="1" fill="none"/>
<path d="M741.5 284.2V297.1" stroke="#000" stroke-opacity="0.44" stroke-width="1" fill="none"/>
<path d="M741.5 303.3V316" stroke="#000" stroke-opacity="0.44" stroke-width="1" fill="none"/>
<path d="M482.9 460H486.1M482.9 492H486.1" stroke="#000" stroke-opacity="0.75" stroke-width="1" fill="none"/>
<path d="M518.9 453H522.1M518.9 480.5H522.1" stroke="#000" stroke-opacity="0.75" stroke-width="1" fill="none"/>
<path d="M555.9 440H559.1M555.9 482.4H559.1" stroke="#000" stroke-opacity="0.75" stroke-width="1" fill="none"/>
<path d="M592.9 440H596.1M592.9 476H596.1" stroke="#000" stroke-opacity="0.75" stroke-width="1" fill="none"/>
<path d="M629.9 435H633.1M629.9 466H633.1" stroke="#000" stroke-opacity="0.75" stroke-width="1" fill="none"/>
<path d="M665.9 425H669.1M665.9 457H669.1" stroke="#000" stroke-opacity="0.75" stroke-width="1" fill="none"/>
<path d="M702.9 410H706.1M702.9 439.3H706.1" stroke="#000" stroke-opacity="0.75" stroke-width="1" fill="none"/>
<path d="M739.9 372H743.1M739.9 411.7H743.1" stroke="#000" stroke-opacity="0.75" stroke-width="1" fill="none"/>
<path d="M482.9 447H486.1M482.9 478H486.1" stroke="#000" stroke-opacity="0.75" stroke-width="1" fill="none"/>
<path d="M518.9 432H522.1M518.9 463H522.1" stroke="#000" stroke-opacity="0.75" stroke-width="1" fill="none"/>
<path d="M555.9 428H559.1M555.9 460H559.1" stroke="#000" stroke-opacity="0.75" stroke-width="1" fill="none"/>
<path d="M592.9 426H596.1M592.9 458H596.1" stroke="#000" stroke-opacity="0.75" stroke-width="1" fill="none"/>
<path d="M629.9 425H633.1M629.9 456H633.1" stroke="#000" stroke-opacity="0.75" stroke-width="1" fill="none"/>
<path d="M665.9 416H669.1M665.9 448H669.1" stroke="#000" stroke-opacity="0.75" stroke-width="1" fill="none"/>
<path d="M702.9 408.5H706.1M702.9 431H706.1" stroke="#000" stroke-opacity="0.75" stroke-width="1" fill="none"/>
<path d="M739.9 370H743.1M739.9 400H743.1" stroke="#000" stroke-opacity="0.75" stroke-width="1" fill="none"/>
<path d="M482.9 428H486.1M482.9 458H486.1" stroke="#000" stroke-opacity="0.75" stroke-width="1" fill="none"/>
<path d="M518.9 406H522.1M518.9 436H522.1" stroke="#000" stroke-opacity="0.75" stroke-width="1" fill="none"/>
<path d="M555.9 378H559.1M555.9 452H559.1" stroke="#000" stroke-opacity="0.75" stroke-width="1" fill="none"/>
<path d="M592.9 364H596.1M592.9 398H596.1" stroke="#000" stroke-opacity="0.75" stroke-width="1" fill="none"/>
<path d="M629.9 350H633.1M629.9 374H633.1" stroke="#000" stroke-opacity="0.75" stroke-width="1" fill="none"/>
<path d="M665.9 347.5H669.1M665.9 372H669.1" stroke="#000" stroke-opacity="0.75" stroke-width="1" fill="none"/>
<path d="M702.9 330H706.1M702.9 359H706.1" stroke="#000" stroke-opacity="0.75" stroke-width="1" fill="none"/>
<path d="M739.9 332H743.1M739.9 368H743.1" stroke="#000" stroke-opacity="0.75" stroke-width="1" fill="none"/>
<path d="M482.9 400H486.1M482.9 432H486.1" stroke="#000" stroke-opacity="0.75" stroke-width="1" fill="none"/>
<path d="M518.9 397H522.1M518.9 428H522.1" stroke="#000" stroke-opacity="0.75" stroke-width="1" fill="none"/>
<path d="M555.9 373H559.1M555.9 392H559.1" stroke="#000" stroke-opacity="0.75" stroke-width="1" fill="none"/>
<path d="M592.9 361H596.1M592.9 392H596.1" stroke="#000" stroke-opacity="0.75" stroke-width="1" fill="none"/>
<path d="M629.9 358H633.1M629.9 386H633.1" stroke="#000" stroke-opacity="0.75" stroke-width="1" fill="none"/>
<path d="M665.9 350H669.1M665.9 384H669.1" stroke="#000" stroke-opacity="0.75" stroke-width="1" fill="none"/>
<path d="M702.9 330H706.1M702.9 359H706.1" stroke="#000" stroke-opacity="0.75" stroke-width="1" fill="none"/>
<path d="M739.9 332H743.1M739.9 352H743.1" stroke="#000" stroke-opacity="0.75" stroke-width="1" fill="none"/>
<path d="M482.9 392.5H486.1M482.9 425H486.1" stroke="#000" stroke-opacity="0.75" stroke-width="1" fill="none"/>
<path d="M518.9 392.5H522.1M518.9 422H522.1" stroke="#000" stroke-opacity="0.75" stroke-width="1" fill="none"/>
<path d="M555.9 373H559.1M555.9 412H559.1" stroke="#000" stroke-opacity="0.75" stroke-width="1" fill="none"/>
<path d="M592.9 361H596.1M592.9 401.2H596.1" stroke="#000" stroke-opacity="0.75" stroke-width="1" fill="none"/>
<path d="M629.9 350H633.1M629.9 386H633.1" stroke="#000" stroke-opacity="0.75" stroke-width="1" fill="none"/>
<path d="M665.9 348H669.1M665.9 384H669.1" stroke="#000" stroke-opacity="0.75" stroke-width="1" fill="none"/>
<path d="M702.9 293H706.1M702.9 332H706.1" stroke="#000" stroke-opacity="0.75" stroke-width="1" fill="none"/>
<path d="M739.9 284.2H743.1M739.9 316H743.1" stroke="#000" stroke-opacity="0.75" stroke-width="1" fill="none"/>
<text x="477.15" y="479.2" font-size="10.4" text-anchor="end" fill="#000">a</text>
<text x="517.1" y="478.1" font-size="10.4" text-anchor="end" fill="#000">a</text>
<text x="553.85" y="468.6" font-size="10.4" text-anchor="end" fill="#000">a</text>
<text x="590.6" y="465.5" font-size="10.4" text-anchor="end" fill="#000">a</text>
<text x="627.35" y="460.8" font-size="10.4" text-anchor="end" fill="#000">a</text>
<text x="664.1" y="450.4" font-size="10.4" text-anchor="end" fill="#000">a</text>
<text x="700.85" y="432.4" font-size="10.4" text-anchor="end" fill="#000">a</text>
<text x="749" y="394.2" font-size="10.4" fill="#000">a</text>
<text x="479.65" y="466.4" font-size="10.4" text-anchor="end" fill="#000">ab</text>
<text x="517.1" y="447.4" font-size="10.4" text-anchor="end" fill="#000">b</text>
<text x="553.85" y="442.2" font-size="10.4" text-anchor="end" fill="#000">a</text>
<text x="590.6" y="440.6" font-size="10.4" text-anchor="end" fill="#000">a</text>
<text x="627.35" y="438.7" font-size="10.4" text-anchor="end" fill="#000">a</text>
<text x="664.1" y="430.5" font-size="10.4" text-anchor="end" fill="#000">a</text>
<text x="700.85" y="417.9" font-size="10.4" text-anchor="end" fill="#000">a</text>
<text x="749" y="387.7" font-size="10.4" fill="#000">a</text>
<text x="477.15" y="447.2" font-size="10.4" text-anchor="end" fill="#000">b</text>
<text x="517.1" y="423.9" font-size="10.4" text-anchor="end" fill="#000">c</text>
<text x="553.85" y="402.8" font-size="10.4" text-anchor="end" fill="#000">b</text>
<text x="590.6" y="384.8" font-size="10.4" text-anchor="end" fill="#000">b</text>
<text x="627.35" y="361.2" font-size="10.4" text-anchor="end" fill="#000">b</text>
<text x="664.1" y="363.1" font-size="10.4" text-anchor="end" fill="#000">b</text>
<text x="700.85" y="356.6" font-size="10.4" text-anchor="end" fill="#000">b</text>
<text x="749" y="356" font-size="10.4" fill="#000">b</text>
<text x="477.15" y="418.7" font-size="10.4" text-anchor="end" fill="#000">c</text>
<text x="517.1" y="414.9" font-size="10.4" text-anchor="end" fill="#000">c</text>
<text x="553.85" y="385.2" font-size="10.4" text-anchor="end" fill="#000">b</text>
<text x="590.6" y="375.6" font-size="10.4" text-anchor="end" fill="#000">b</text>
<text x="627.35" y="382.4" font-size="10.4" text-anchor="end" fill="#000">b</text>
<text x="664.1" y="377.8" font-size="10.4" text-anchor="end" fill="#000">b</text>
<text x="700.85" y="345.4" font-size="10.4" text-anchor="end" fill="#000">b</text>
<text x="749" y="345.4" font-size="10.4" fill="#000">b</text>
<text x="477.15" y="411.6" font-size="10.4" text-anchor="end" fill="#000">c</text>
<text x="517.1" y="406.2" font-size="10.4" text-anchor="end" fill="#000">c</text>
<text x="553.85" y="396.6" font-size="10.4" text-anchor="end" fill="#000">b</text>
<text x="590.6" y="393.6" font-size="10.4" text-anchor="end" fill="#000">b</text>
<text x="627.35" y="374.2" font-size="10.4" text-anchor="end" fill="#000">b</text>
<text x="664.1" y="369.5" font-size="10.4" text-anchor="end" fill="#000">b</text>
<text x="700.85" y="315.2" font-size="10.4" text-anchor="end" fill="#000">c</text>
<text x="749.5" y="302.9" font-size="10.4" fill="#000">c</text>
<line x1="84.9" y1="232" x2="109.2" y2="232" stroke="#000" stroke-width="1.3"/>
<path d="M97.05 227.5L101.55 232L97.05 236.5L92.55 232Z" fill="#000"/>
<text x="112.5" y="235.6" font-size="10" fill="#000">T0H0</text>
<line x1="139.6" y1="232" x2="163.6" y2="232" stroke="#8a8a8a" stroke-width="0.9" stroke-dasharray="1,1"/>
<circle cx="151.6" cy="232" r="3.1" fill="#fff" stroke="#333" stroke-width="0.9"/>
<text x="166.9" y="235.6" font-size="10" fill="#000">T3H4</text>
<line x1="197.0" y1="232" x2="220.7" y2="232" stroke="#000" stroke-width="0.9" stroke-dasharray="1,1"/>
<circle cx="208.85" cy="232" r="3.6" fill="#000"/>
<text x="224.3" y="235.6" font-size="10" fill="#000">T3H5</text>
<line x1="252.4" y1="232" x2="275.4" y2="232" stroke="#8a8a8a" stroke-width="1.0"/>
<rect x="261.1" y="229.2" width="5.6" height="5.6" fill="#fff" stroke="#666" stroke-width="0.9"/>
<text x="280.0" y="235.6" font-size="10" fill="#000">T2H4</text>
<line x1="307.1" y1="232" x2="330.6" y2="232" stroke="#000" stroke-width="1.3"/>
<rect x="315.75" y="228.9" width="6.2" height="6.2" fill="#000"/>
<text x="333.2" y="235.6" font-size="10" fill="#000">T2H5</text>
<text x="217.5" y="550.3" font-size="10.8" text-anchor="middle" fill="#000">Time (weeks)</text>
<text x="612.5" y="550.3" font-size="10.8" text-anchor="middle" fill="#000">Time (weeks)</text>
</svg></body></html>
